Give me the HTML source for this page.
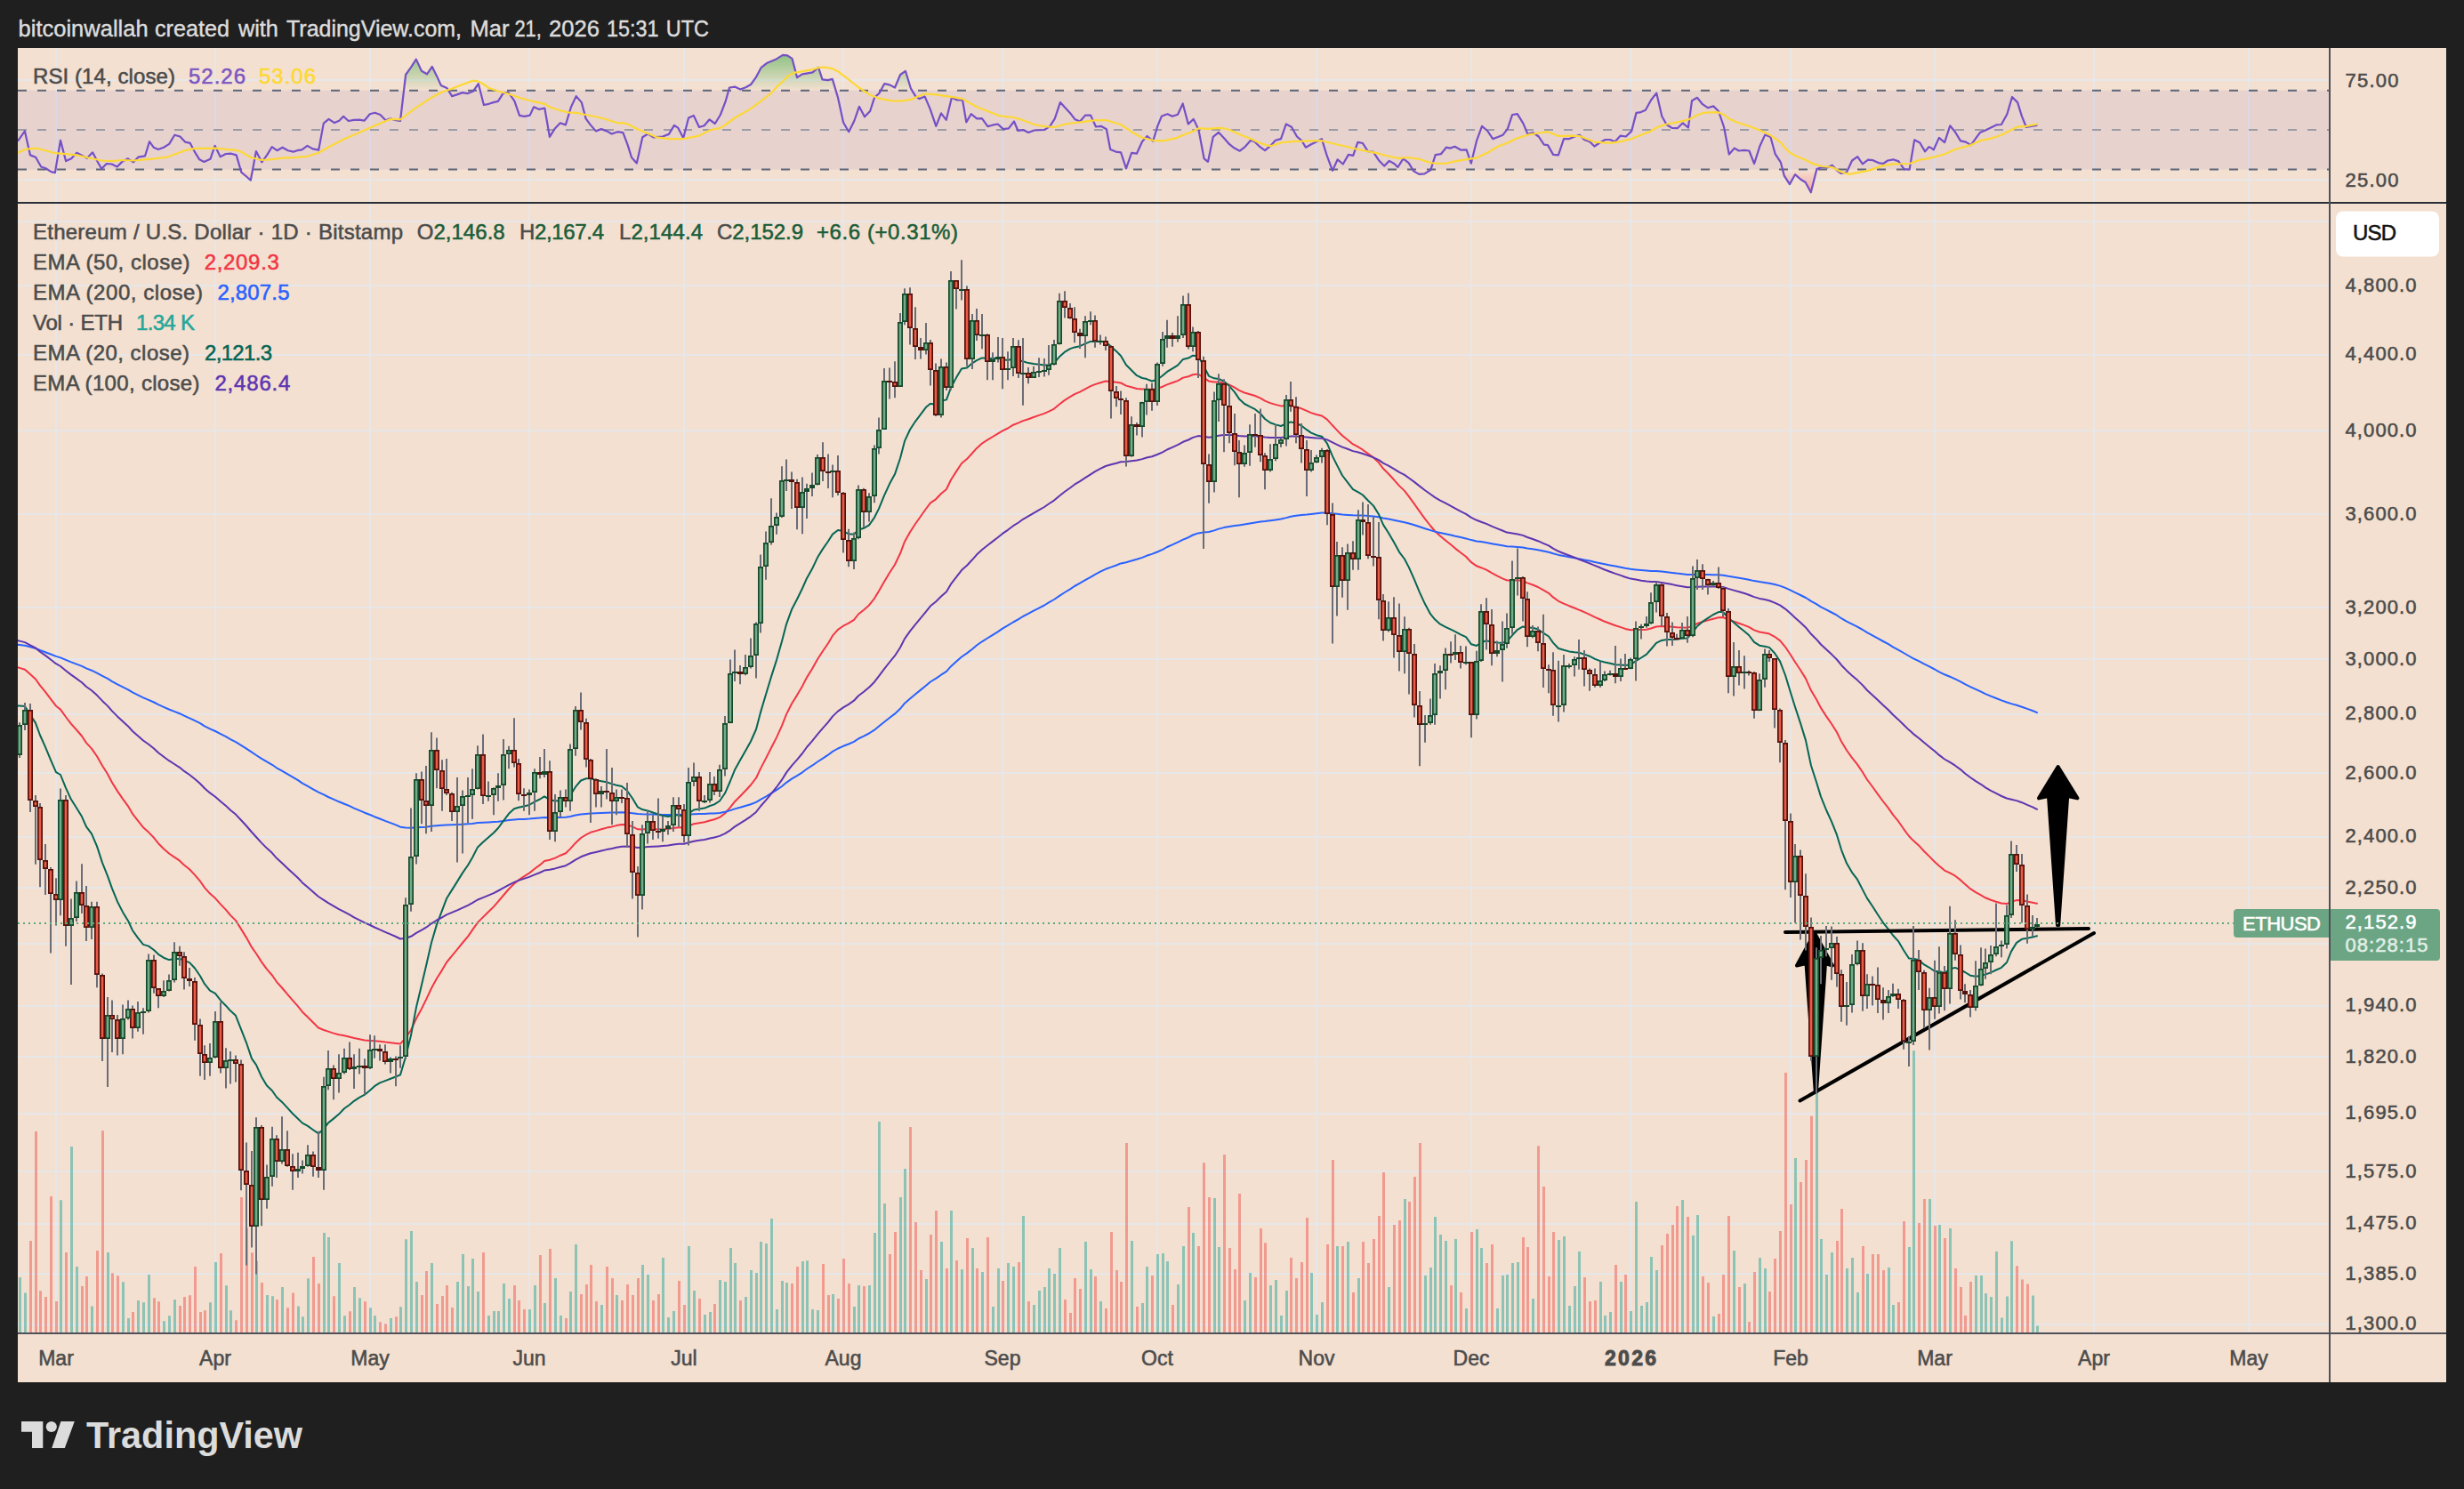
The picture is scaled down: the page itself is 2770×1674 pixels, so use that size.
<!DOCTYPE html><html><head><meta charset="utf-8"><title>ETHUSD chart</title><style>html,body{margin:0;padding:0;background:#1f1f1f;}svg{display:block}</style></head><body><svg width="2770" height="1674" viewBox="0 0 2770 1674" font-family="Liberation Sans, Arial, sans-serif">
<rect width="2770" height="1674" fill="#1f1f1f"/>
<rect x="20" y="54" width="2730" height="1500" fill="#f3e0d0"/>
<defs><clipPath id="cm"><rect x="20" y="229" width="2598" height="1269"/></clipPath><clipPath id="cr"><rect x="20" y="54" width="2598" height="173"/></clipPath><linearGradient id="ob" x1="0" y1="0" x2="0" y2="1"><stop offset="0" stop-color="#4caf50" stop-opacity="0.55"/><stop offset="1" stop-color="#4caf50" stop-opacity="0.05"/></linearGradient></defs>
<defs><clipPath id="cm2"><rect x="2619" y="228" width="140" height="1270"/></clipPath></defs>
<path d="M63 54V1499M242 54V1499M416 54V1499M595 54V1499M769 54V1499M948 54V1499M1127 54V1499M1301 54V1499M1480 54V1499M1654 54V1499M1833 54V1499M2013 54V1499M2175 54V1499M2354 54V1499M2528 54V1499M20 249H2619M20 321H2619M20 399H2619M20 484H2619M20 578H2619M20 683H2619M20 741H2619M20 803H2619M20 869H2619M20 941H2619M20 998H2619M20 1061H2619M20 1131H2619M20 1188H2619M20 1252H2619M20 1317H2619M20 1376H2619M20 1432H2619M20 1489H2619M20 90H2619M20 202H2619" stroke="#e7e7e9" stroke-width="2" fill="none"/>
<rect x="20" y="101.7" width="2598" height="88.89999999999999" fill="#7e57c2" fill-opacity="0.10"/>
<defs><linearGradient id="gob" gradientUnits="userSpaceOnUse" x1="0" y1="45" x2="0" y2="101.7"><stop offset="0" stop-color="#4caf50" stop-opacity="0.85"/><stop offset="1" stop-color="#4caf50" stop-opacity="0"/></linearGradient><linearGradient id="gos" gradientUnits="userSpaceOnUse" x1="0" y1="190.6" x2="0" y2="240"><stop offset="0" stop-color="#ff5252" stop-opacity="0"/><stop offset="1" stop-color="#ff5252" stop-opacity="0.85"/></linearGradient><clipPath id="cob"><rect x="20" y="54" width="2599" height="47.7"/></clipPath><clipPath id="cos"><rect x="20" y="190.6" width="2599" height="37.400000000000006"/></clipPath></defs>
<g clip-path="url(#cr)">
<polygon points="20.0,101.7 20.0,158.7 27.9,147.4 34.0,174.4 40.1,176.7 46.2,187.5 51.4,189.3 57.5,193.1 61.9,194.1 68.0,157.8 74.1,181.1 80.2,178.3 86.3,171.8 91.6,174.4 97.7,177.9 104.1,171.3 109.9,182.3 114.2,189.8 119.8,184.0 125.6,184.5 131.7,187.5 137.8,181.4 143.9,178.3 150.0,182.3 155.3,176.7 163.1,175.3 168.0,159.2 172.7,165.7 177.9,168.0 184.0,165.7 190.2,161.9 196.3,151.7 202.4,153.5 208.1,159.6 213.7,160.8 219.0,170.9 224.2,179.3 229.4,181.9 236.4,178.8 241.6,163.9 247.7,176.2 253.9,173.0 260.0,172.7 265.7,174.4 271.3,193.6 276.5,198.0 281.8,202.7 287.9,170.1 294.3,182.3 300.1,174.4 305.7,165.2 311.4,169.2 317.6,165.7 323.7,169.2 329.8,170.6 334.1,169.2 339.4,168.3 345.5,163.9 351.6,167.4 358.2,168.7 363.8,138.6 369.6,133.8 376.0,138.1 381.3,135.7 386.1,130.8 391.7,136.0 397.8,134.8 403.9,134.6 409.5,135.7 415.8,128.2 421.4,126.8 427.5,129.0 433.6,135.2 438.8,133.4 445.0,135.2 450.0,136.0 456.1,84.0 461.9,75.8 467.8,66.6 473.9,79.8 480.0,83.3 485.8,74.9 491.0,85.4 495.7,95.9 502.4,99.0 508.1,108.1 513.7,106.4 519.8,104.1 525.9,105.1 532.0,102.5 537.8,94.1 543.9,118.0 549.5,116.8 554.7,115.1 559.9,113.9 565.5,105.1 571.3,103.7 578.3,113.3 584.0,129.9 589.6,130.8 595.7,129.6 600.1,120.3 606.2,122.9 612.3,121.5 617.9,153.8 623.6,144.8 629.8,138.3 635.9,140.4 642.0,120.3 647.7,108.1 653.8,115.1 658.6,133.4 663.8,140.4 669.9,147.4 676.0,145.1 682.1,147.4 687.7,150.5 694.3,148.2 700.4,149.1 705.7,163.1 710.0,177.0 715.8,183.5 722.3,154.3 728.4,150.5 734.5,154.3 744.9,153.5 751.9,150.9 758.0,140.9 762.4,143.9 768.2,155.2 774.1,132.5 779.8,129.9 786.0,143.0 791.7,141.3 797.6,134.3 803.8,139.0 809.9,129.0 815.6,114.2 820.0,98.5 826.1,97.6 832.2,100.6 838.3,98.2 844.1,95.0 849.7,87.2 855.8,75.8 861.9,71.1 871.5,67.1 880.0,61.9 885.2,62.4 890.5,65.9 896.1,87.2 901.8,83.3 907.9,82.3 913.5,81.4 920.1,75.8 924.5,89.4 930.6,90.1 935.8,88.9 942.0,109.8 948.1,137.8 954.2,148.2 960.3,136.0 965.9,119.8 972.0,131.3 978.1,125.0 983.0,109.8 988.6,104.6 994.3,94.1 1000.1,95.4 1006.0,98.5 1012.1,84.0 1017.9,79.8 1024.0,99.7 1029.2,108.1 1033.6,111.1 1039.7,108.6 1045.8,122.9 1052.3,141.8 1058.0,127.3 1063.8,134.8 1069.9,109.8 1076.0,112.5 1082.1,112.5 1086.3,137.4 1091.7,128.2 1098.2,133.4 1103.9,133.1 1110.4,142.1 1115.6,140.7 1121.7,139.5 1127.8,145.1 1133.9,144.4 1140.0,136.5 1144.4,147.0 1150.2,146.1 1156.1,149.1 1162.7,146.5 1174.1,146.0 1180.2,142.1 1185.8,133.4 1191.9,115.1 1197.6,121.2 1202.9,126.9 1208.6,134.3 1214.2,136.5 1220.0,129.6 1226.1,129.6 1232.0,142.5 1237.8,141.8 1243.9,145.3 1248.2,168.0 1254.3,170.6 1260.1,171.3 1266.0,189.3 1272.1,171.8 1277.9,172.7 1284.0,159.2 1289.6,153.0 1296.2,158.7 1301.5,141.3 1305.8,130.8 1310.0,129.0 1312.6,128.2 1317.9,130.8 1324.0,128.7 1329.7,116.5 1335.8,139.5 1341.8,133.9 1347.5,146.0 1353.6,178.3 1358.0,181.9 1363.8,153.8 1369.9,148.8 1376.0,155.2 1382.1,162.2 1387.7,166.6 1393.8,169.7 1399.9,164.8 1406.0,157.8 1410.3,159.2 1416.5,165.2 1422.0,169.2 1428.3,163.9 1433.9,157.8 1440.0,156.1 1445.8,139.5 1451.9,142.7 1458.0,153.5 1463.6,158.4 1467.9,165.7 1474.0,162.2 1480.2,159.2 1485.9,156.1 1491.5,174.4 1498.0,191.9 1503.7,179.3 1509.8,184.5 1515.9,173.9 1521.2,174.9 1526.4,159.9 1532.0,161.0 1537.7,170.1 1543.9,170.9 1550.0,180.2 1556.1,186.6 1561.8,180.9 1567.4,184.0 1571.4,188.0 1577.5,178.3 1583.6,183.1 1589.2,192.4 1595.3,195.9 1601.4,195.4 1608.4,191.0 1613.7,174.1 1619.8,173.2 1625.9,165.7 1630.2,166.6 1635.5,164.8 1642.5,168.7 1648.6,168.3 1653.8,183.7 1659.9,158.7 1666.0,141.8 1672.1,147.0 1678.2,156.1 1684.0,154.0 1689.6,151.7 1694.8,144.8 1700.1,129.0 1705.8,128.2 1712.3,138.6 1717.5,150.9 1723.6,149.1 1729.7,153.5 1735.8,162.7 1740.0,163.1 1746.1,173.9 1751.9,174.4 1758.0,156.1 1764.4,156.1 1769.7,153.8 1775.8,151.7 1781.0,157.0 1787.1,159.2 1792.4,164.5 1798.5,160.5 1804.6,157.0 1809.8,157.0 1815.6,159.2 1821.7,152.6 1827.8,153.5 1834.2,147.4 1839.5,126.9 1844.7,126.1 1849.9,123.8 1856.1,112.5 1862.2,104.6 1868.3,130.8 1873.5,140.0 1879.6,143.9 1885.7,144.2 1891.8,138.3 1897.9,143.5 1902.0,113.3 1907.9,109.8 1914.0,117.2 1919.8,121.2 1926.2,119.4 1932.0,125.0 1938.1,143.0 1943.8,173.5 1949.9,166.6 1954.7,169.5 1960.8,168.8 1966.4,169.5 1972.1,184.0 1978.2,164.8 1984.3,151.4 1990.4,154.0 1995.7,173.2 2001.8,182.3 2005.8,197.6 2011.9,207.1 2018.0,196.2 2024.5,201.8 2029.7,205.0 2035.8,216.3 2042.4,190.1 2048.0,187.9 2054.1,188.4 2059.7,185.8 2065.5,191.9 2069.8,195.0 2076.0,193.6 2082.1,180.5 2088.2,176.2 2093.9,184.4 2100.0,179.7 2105.6,180.2 2111.7,183.1 2117.0,184.0 2122.2,180.5 2128.3,179.3 2134.4,181.4 2140.5,190.1 2146.6,190.6 2152.2,157.3 2158.3,160.5 2164.1,170.4 2168.4,165.2 2170.0,165.7 2173.8,168.3 2179.9,154.9 2186.1,160.1 2192.2,141.3 2197.9,148.2 2204.0,158.4 2209.8,159.6 2215.7,163.1 2225.8,149.1 2232.0,146.5 2238.1,143.4 2244.2,140.4 2249.9,140.0 2256.4,128.2 2262.0,109.0 2268.1,115.1 2273.0,130.8 2277.9,143.0 2290.4,140.7 2290.4,101.7" fill="url(#gob)" clip-path="url(#cob)"/>
<polygon points="20.0,190.6 20.0,158.7 27.9,147.4 34.0,174.4 40.1,176.7 46.2,187.5 51.4,189.3 57.5,193.1 61.9,194.1 68.0,157.8 74.1,181.1 80.2,178.3 86.3,171.8 91.6,174.4 97.7,177.9 104.1,171.3 109.9,182.3 114.2,189.8 119.8,184.0 125.6,184.5 131.7,187.5 137.8,181.4 143.9,178.3 150.0,182.3 155.3,176.7 163.1,175.3 168.0,159.2 172.7,165.7 177.9,168.0 184.0,165.7 190.2,161.9 196.3,151.7 202.4,153.5 208.1,159.6 213.7,160.8 219.0,170.9 224.2,179.3 229.4,181.9 236.4,178.8 241.6,163.9 247.7,176.2 253.9,173.0 260.0,172.7 265.7,174.4 271.3,193.6 276.5,198.0 281.8,202.7 287.9,170.1 294.3,182.3 300.1,174.4 305.7,165.2 311.4,169.2 317.6,165.7 323.7,169.2 329.8,170.6 334.1,169.2 339.4,168.3 345.5,163.9 351.6,167.4 358.2,168.7 363.8,138.6 369.6,133.8 376.0,138.1 381.3,135.7 386.1,130.8 391.7,136.0 397.8,134.8 403.9,134.6 409.5,135.7 415.8,128.2 421.4,126.8 427.5,129.0 433.6,135.2 438.8,133.4 445.0,135.2 450.0,136.0 456.1,84.0 461.9,75.8 467.8,66.6 473.9,79.8 480.0,83.3 485.8,74.9 491.0,85.4 495.7,95.9 502.4,99.0 508.1,108.1 513.7,106.4 519.8,104.1 525.9,105.1 532.0,102.5 537.8,94.1 543.9,118.0 549.5,116.8 554.7,115.1 559.9,113.9 565.5,105.1 571.3,103.7 578.3,113.3 584.0,129.9 589.6,130.8 595.7,129.6 600.1,120.3 606.2,122.9 612.3,121.5 617.9,153.8 623.6,144.8 629.8,138.3 635.9,140.4 642.0,120.3 647.7,108.1 653.8,115.1 658.6,133.4 663.8,140.4 669.9,147.4 676.0,145.1 682.1,147.4 687.7,150.5 694.3,148.2 700.4,149.1 705.7,163.1 710.0,177.0 715.8,183.5 722.3,154.3 728.4,150.5 734.5,154.3 744.9,153.5 751.9,150.9 758.0,140.9 762.4,143.9 768.2,155.2 774.1,132.5 779.8,129.9 786.0,143.0 791.7,141.3 797.6,134.3 803.8,139.0 809.9,129.0 815.6,114.2 820.0,98.5 826.1,97.6 832.2,100.6 838.3,98.2 844.1,95.0 849.7,87.2 855.8,75.8 861.9,71.1 871.5,67.1 880.0,61.9 885.2,62.4 890.5,65.9 896.1,87.2 901.8,83.3 907.9,82.3 913.5,81.4 920.1,75.8 924.5,89.4 930.6,90.1 935.8,88.9 942.0,109.8 948.1,137.8 954.2,148.2 960.3,136.0 965.9,119.8 972.0,131.3 978.1,125.0 983.0,109.8 988.6,104.6 994.3,94.1 1000.1,95.4 1006.0,98.5 1012.1,84.0 1017.9,79.8 1024.0,99.7 1029.2,108.1 1033.6,111.1 1039.7,108.6 1045.8,122.9 1052.3,141.8 1058.0,127.3 1063.8,134.8 1069.9,109.8 1076.0,112.5 1082.1,112.5 1086.3,137.4 1091.7,128.2 1098.2,133.4 1103.9,133.1 1110.4,142.1 1115.6,140.7 1121.7,139.5 1127.8,145.1 1133.9,144.4 1140.0,136.5 1144.4,147.0 1150.2,146.1 1156.1,149.1 1162.7,146.5 1174.1,146.0 1180.2,142.1 1185.8,133.4 1191.9,115.1 1197.6,121.2 1202.9,126.9 1208.6,134.3 1214.2,136.5 1220.0,129.6 1226.1,129.6 1232.0,142.5 1237.8,141.8 1243.9,145.3 1248.2,168.0 1254.3,170.6 1260.1,171.3 1266.0,189.3 1272.1,171.8 1277.9,172.7 1284.0,159.2 1289.6,153.0 1296.2,158.7 1301.5,141.3 1305.8,130.8 1310.0,129.0 1312.6,128.2 1317.9,130.8 1324.0,128.7 1329.7,116.5 1335.8,139.5 1341.8,133.9 1347.5,146.0 1353.6,178.3 1358.0,181.9 1363.8,153.8 1369.9,148.8 1376.0,155.2 1382.1,162.2 1387.7,166.6 1393.8,169.7 1399.9,164.8 1406.0,157.8 1410.3,159.2 1416.5,165.2 1422.0,169.2 1428.3,163.9 1433.9,157.8 1440.0,156.1 1445.8,139.5 1451.9,142.7 1458.0,153.5 1463.6,158.4 1467.9,165.7 1474.0,162.2 1480.2,159.2 1485.9,156.1 1491.5,174.4 1498.0,191.9 1503.7,179.3 1509.8,184.5 1515.9,173.9 1521.2,174.9 1526.4,159.9 1532.0,161.0 1537.7,170.1 1543.9,170.9 1550.0,180.2 1556.1,186.6 1561.8,180.9 1567.4,184.0 1571.4,188.0 1577.5,178.3 1583.6,183.1 1589.2,192.4 1595.3,195.9 1601.4,195.4 1608.4,191.0 1613.7,174.1 1619.8,173.2 1625.9,165.7 1630.2,166.6 1635.5,164.8 1642.5,168.7 1648.6,168.3 1653.8,183.7 1659.9,158.7 1666.0,141.8 1672.1,147.0 1678.2,156.1 1684.0,154.0 1689.6,151.7 1694.8,144.8 1700.1,129.0 1705.8,128.2 1712.3,138.6 1717.5,150.9 1723.6,149.1 1729.7,153.5 1735.8,162.7 1740.0,163.1 1746.1,173.9 1751.9,174.4 1758.0,156.1 1764.4,156.1 1769.7,153.8 1775.8,151.7 1781.0,157.0 1787.1,159.2 1792.4,164.5 1798.5,160.5 1804.6,157.0 1809.8,157.0 1815.6,159.2 1821.7,152.6 1827.8,153.5 1834.2,147.4 1839.5,126.9 1844.7,126.1 1849.9,123.8 1856.1,112.5 1862.2,104.6 1868.3,130.8 1873.5,140.0 1879.6,143.9 1885.7,144.2 1891.8,138.3 1897.9,143.5 1902.0,113.3 1907.9,109.8 1914.0,117.2 1919.8,121.2 1926.2,119.4 1932.0,125.0 1938.1,143.0 1943.8,173.5 1949.9,166.6 1954.7,169.5 1960.8,168.8 1966.4,169.5 1972.1,184.0 1978.2,164.8 1984.3,151.4 1990.4,154.0 1995.7,173.2 2001.8,182.3 2005.8,197.6 2011.9,207.1 2018.0,196.2 2024.5,201.8 2029.7,205.0 2035.8,216.3 2042.4,190.1 2048.0,187.9 2054.1,188.4 2059.7,185.8 2065.5,191.9 2069.8,195.0 2076.0,193.6 2082.1,180.5 2088.2,176.2 2093.9,184.4 2100.0,179.7 2105.6,180.2 2111.7,183.1 2117.0,184.0 2122.2,180.5 2128.3,179.3 2134.4,181.4 2140.5,190.1 2146.6,190.6 2152.2,157.3 2158.3,160.5 2164.1,170.4 2168.4,165.2 2170.0,165.7 2173.8,168.3 2179.9,154.9 2186.1,160.1 2192.2,141.3 2197.9,148.2 2204.0,158.4 2209.8,159.6 2215.7,163.1 2225.8,149.1 2232.0,146.5 2238.1,143.4 2244.2,140.4 2249.9,140.0 2256.4,128.2 2262.0,109.0 2268.1,115.1 2273.0,130.8 2277.9,143.0 2290.4,140.7 2290.4,190.6" fill="url(#gos)" clip-path="url(#cos)"/>
<path d="M20 101.7H2619M20 190.6H2619" stroke="#5d6578" stroke-width="2" stroke-dasharray="10 12" fill="none"/>
<path d="M20 146.0H2619" stroke="#9c9ca6" stroke-width="2" stroke-dasharray="10 12" fill="none"/>
<polyline points="20.0,158.7 27.9,147.4 34.0,174.4 40.1,176.7 46.2,187.5 51.4,189.3 57.5,193.1 61.9,194.1 68.0,157.8 74.1,181.1 80.2,178.3 86.3,171.8 91.6,174.4 97.7,177.9 104.1,171.3 109.9,182.3 114.2,189.8 119.8,184.0 125.6,184.5 131.7,187.5 137.8,181.4 143.9,178.3 150.0,182.3 155.3,176.7 163.1,175.3 168.0,159.2 172.7,165.7 177.9,168.0 184.0,165.7 190.2,161.9 196.3,151.7 202.4,153.5 208.1,159.6 213.7,160.8 219.0,170.9 224.2,179.3 229.4,181.9 236.4,178.8 241.6,163.9 247.7,176.2 253.9,173.0 260.0,172.7 265.7,174.4 271.3,193.6 276.5,198.0 281.8,202.7 287.9,170.1 294.3,182.3 300.1,174.4 305.7,165.2 311.4,169.2 317.6,165.7 323.7,169.2 329.8,170.6 334.1,169.2 339.4,168.3 345.5,163.9 351.6,167.4 358.2,168.7 363.8,138.6 369.6,133.8 376.0,138.1 381.3,135.7 386.1,130.8 391.7,136.0 397.8,134.8 403.9,134.6 409.5,135.7 415.8,128.2 421.4,126.8 427.5,129.0 433.6,135.2 438.8,133.4 445.0,135.2 450.0,136.0 456.1,84.0 461.9,75.8 467.8,66.6 473.9,79.8 480.0,83.3 485.8,74.9 491.0,85.4 495.7,95.9 502.4,99.0 508.1,108.1 513.7,106.4 519.8,104.1 525.9,105.1 532.0,102.5 537.8,94.1 543.9,118.0 549.5,116.8 554.7,115.1 559.9,113.9 565.5,105.1 571.3,103.7 578.3,113.3 584.0,129.9 589.6,130.8 595.7,129.6 600.1,120.3 606.2,122.9 612.3,121.5 617.9,153.8 623.6,144.8 629.8,138.3 635.9,140.4 642.0,120.3 647.7,108.1 653.8,115.1 658.6,133.4 663.8,140.4 669.9,147.4 676.0,145.1 682.1,147.4 687.7,150.5 694.3,148.2 700.4,149.1 705.7,163.1 710.0,177.0 715.8,183.5 722.3,154.3 728.4,150.5 734.5,154.3 744.9,153.5 751.9,150.9 758.0,140.9 762.4,143.9 768.2,155.2 774.1,132.5 779.8,129.9 786.0,143.0 791.7,141.3 797.6,134.3 803.8,139.0 809.9,129.0 815.6,114.2 820.0,98.5 826.1,97.6 832.2,100.6 838.3,98.2 844.1,95.0 849.7,87.2 855.8,75.8 861.9,71.1 871.5,67.1 880.0,61.9 885.2,62.4 890.5,65.9 896.1,87.2 901.8,83.3 907.9,82.3 913.5,81.4 920.1,75.8 924.5,89.4 930.6,90.1 935.8,88.9 942.0,109.8 948.1,137.8 954.2,148.2 960.3,136.0 965.9,119.8 972.0,131.3 978.1,125.0 983.0,109.8 988.6,104.6 994.3,94.1 1000.1,95.4 1006.0,98.5 1012.1,84.0 1017.9,79.8 1024.0,99.7 1029.2,108.1 1033.6,111.1 1039.7,108.6 1045.8,122.9 1052.3,141.8 1058.0,127.3 1063.8,134.8 1069.9,109.8 1076.0,112.5 1082.1,112.5 1086.3,137.4 1091.7,128.2 1098.2,133.4 1103.9,133.1 1110.4,142.1 1115.6,140.7 1121.7,139.5 1127.8,145.1 1133.9,144.4 1140.0,136.5 1144.4,147.0 1150.2,146.1 1156.1,149.1 1162.7,146.5 1174.1,146.0 1180.2,142.1 1185.8,133.4 1191.9,115.1 1197.6,121.2 1202.9,126.9 1208.6,134.3 1214.2,136.5 1220.0,129.6 1226.1,129.6 1232.0,142.5 1237.8,141.8 1243.9,145.3 1248.2,168.0 1254.3,170.6 1260.1,171.3 1266.0,189.3 1272.1,171.8 1277.9,172.7 1284.0,159.2 1289.6,153.0 1296.2,158.7 1301.5,141.3 1305.8,130.8 1310.0,129.0 1312.6,128.2 1317.9,130.8 1324.0,128.7 1329.7,116.5 1335.8,139.5 1341.8,133.9 1347.5,146.0 1353.6,178.3 1358.0,181.9 1363.8,153.8 1369.9,148.8 1376.0,155.2 1382.1,162.2 1387.7,166.6 1393.8,169.7 1399.9,164.8 1406.0,157.8 1410.3,159.2 1416.5,165.2 1422.0,169.2 1428.3,163.9 1433.9,157.8 1440.0,156.1 1445.8,139.5 1451.9,142.7 1458.0,153.5 1463.6,158.4 1467.9,165.7 1474.0,162.2 1480.2,159.2 1485.9,156.1 1491.5,174.4 1498.0,191.9 1503.7,179.3 1509.8,184.5 1515.9,173.9 1521.2,174.9 1526.4,159.9 1532.0,161.0 1537.7,170.1 1543.9,170.9 1550.0,180.2 1556.1,186.6 1561.8,180.9 1567.4,184.0 1571.4,188.0 1577.5,178.3 1583.6,183.1 1589.2,192.4 1595.3,195.9 1601.4,195.4 1608.4,191.0 1613.7,174.1 1619.8,173.2 1625.9,165.7 1630.2,166.6 1635.5,164.8 1642.5,168.7 1648.6,168.3 1653.8,183.7 1659.9,158.7 1666.0,141.8 1672.1,147.0 1678.2,156.1 1684.0,154.0 1689.6,151.7 1694.8,144.8 1700.1,129.0 1705.8,128.2 1712.3,138.6 1717.5,150.9 1723.6,149.1 1729.7,153.5 1735.8,162.7 1740.0,163.1 1746.1,173.9 1751.9,174.4 1758.0,156.1 1764.4,156.1 1769.7,153.8 1775.8,151.7 1781.0,157.0 1787.1,159.2 1792.4,164.5 1798.5,160.5 1804.6,157.0 1809.8,157.0 1815.6,159.2 1821.7,152.6 1827.8,153.5 1834.2,147.4 1839.5,126.9 1844.7,126.1 1849.9,123.8 1856.1,112.5 1862.2,104.6 1868.3,130.8 1873.5,140.0 1879.6,143.9 1885.7,144.2 1891.8,138.3 1897.9,143.5 1902.0,113.3 1907.9,109.8 1914.0,117.2 1919.8,121.2 1926.2,119.4 1932.0,125.0 1938.1,143.0 1943.8,173.5 1949.9,166.6 1954.7,169.5 1960.8,168.8 1966.4,169.5 1972.1,184.0 1978.2,164.8 1984.3,151.4 1990.4,154.0 1995.7,173.2 2001.8,182.3 2005.8,197.6 2011.9,207.1 2018.0,196.2 2024.5,201.8 2029.7,205.0 2035.8,216.3 2042.4,190.1 2048.0,187.9 2054.1,188.4 2059.7,185.8 2065.5,191.9 2069.8,195.0 2076.0,193.6 2082.1,180.5 2088.2,176.2 2093.9,184.4 2100.0,179.7 2105.6,180.2 2111.7,183.1 2117.0,184.0 2122.2,180.5 2128.3,179.3 2134.4,181.4 2140.5,190.1 2146.6,190.6 2152.2,157.3 2158.3,160.5 2164.1,170.4 2168.4,165.2 2170.0,165.7 2173.8,168.3 2179.9,154.9 2186.1,160.1 2192.2,141.3 2197.9,148.2 2204.0,158.4 2209.8,159.6 2215.7,163.1 2225.8,149.1 2232.0,146.5 2238.1,143.4 2244.2,140.4 2249.9,140.0 2256.4,128.2 2262.0,109.0 2268.1,115.1 2273.0,130.8 2277.9,143.0 2290.4,140.7" fill="none" stroke="#7450c6" stroke-width="2.2" stroke-linejoin="round"/>
<polyline points="20.0,171.8 28.7,167.8 40.1,166.6 51.4,169.2 61.9,172.2 74.1,173.2 86.3,174.4 97.7,177.0 114.2,180.5 125.6,181.1 137.8,180.0 150.0,180.5 163.1,179.3 177.9,177.9 187.5,176.7 196.3,173.5 208.1,169.2 219.0,166.9 229.4,166.9 241.6,166.6 253.9,167.8 265.7,168.8 271.3,170.6 281.8,177.0 294.3,180.0 305.7,179.1 317.6,177.6 329.8,177.2 345.5,175.8 358.2,171.8 369.6,165.2 386.5,156.4 403.9,149.1 421.4,141.3 438.8,133.9 450.0,134.3 467.5,121.2 484.9,109.8 496.2,103.7 508.1,99.7 519.8,95.0 532.0,90.6 537.8,91.5 544.2,95.0 549.5,99.0 559.9,102.5 571.3,105.5 584.0,109.8 600.1,114.2 612.3,116.8 617.9,120.3 629.8,124.2 638.5,126.4 647.7,126.9 658.6,129.0 676.0,132.5 694.3,138.3 700.4,138.1 705.7,139.5 715.8,144.8 728.4,150.0 738.0,154.3 751.9,156.1 768.2,156.1 786.0,152.6 797.6,146.5 809.9,143.9 816.5,139.5 826.1,132.5 844.1,122.1 855.8,113.3 867.1,104.6 874.1,96.8 880.0,91.5 886.1,85.4 892.2,81.9 902.7,80.2 913.5,78.1 920.1,76.2 926.2,75.5 935.8,77.2 942.0,80.2 953.3,88.9 965.5,98.5 977.7,106.4 988.6,110.7 1002.2,113.3 1012.1,113.7 1024.0,111.9 1031.8,108.6 1039.7,105.5 1052.3,106.4 1063.8,108.1 1076.0,109.8 1082.1,111.1 1098.2,120.3 1110.4,125.0 1121.7,129.6 1127.8,130.8 1140.0,132.0 1150.2,135.2 1162.7,140.0 1174.1,142.1 1185.8,143.0 1197.6,139.5 1214.2,137.4 1232.0,135.2 1243.9,135.2 1260.1,140.0 1272.1,148.2 1284.0,154.7 1296.2,157.8 1305.8,158.4 1310.0,157.8 1322.2,155.2 1329.7,152.1 1341.8,147.4 1347.5,144.2 1358.0,144.8 1369.9,143.9 1376.0,144.2 1382.1,146.0 1393.8,151.2 1406.0,156.1 1416.5,161.0 1428.3,164.3 1440.0,160.5 1451.9,159.2 1467.9,158.7 1485.9,158.2 1498.0,161.3 1515.9,165.2 1526.4,168.0 1537.7,170.1 1550.0,172.7 1561.8,175.8 1571.4,177.9 1583.6,177.0 1595.3,178.8 1608.4,183.1 1619.8,184.0 1625.9,183.7 1635.5,181.4 1648.6,179.1 1659.9,177.6 1672.1,171.8 1684.0,164.8 1694.8,160.5 1705.8,155.2 1717.5,151.7 1729.7,149.5 1740.0,148.2 1752.2,153.0 1764.4,152.6 1775.8,153.0 1792.4,159.6 1809.8,160.8 1821.7,159.2 1834.2,156.1 1844.7,151.7 1856.1,147.4 1862.2,143.5 1873.5,139.5 1885.7,137.4 1897.9,134.6 1907.9,129.6 1914.5,126.9 1926.2,126.1 1932.0,126.4 1938.1,129.0 1943.8,133.4 1954.7,138.3 1966.4,141.8 1978.2,146.5 1990.4,152.1 2001.8,160.1 2007.0,166.6 2012.3,171.8 2018.0,174.9 2029.7,179.7 2035.8,183.1 2048.0,187.0 2059.7,188.0 2069.8,193.3 2078.6,195.9 2088.2,194.1 2100.0,191.9 2117.0,186.1 2128.3,184.4 2146.6,184.0 2158.3,179.7 2170.0,177.6 2185.7,173.5 2197.9,168.0 2215.7,163.1 2225.8,158.2 2238.1,155.7 2249.9,151.7 2262.0,145.6 2268.1,142.7 2277.9,141.8 2290.4,139.5" fill="none" stroke="#fdd835" stroke-width="2.2" stroke-linejoin="round"/>
</g>
<g clip-path="url(#cm)">
<polyline points="16,749.1 22,750.9 28,752.7 34,758.1 40,763.5 45,770.6 51,777.9 57,785.8 63,793.7 68,797.6 74,806.0 80,813.8 86,820.5 92,827.5 97,835.1 103,841.6 109,850.3 115,860.8 121,870.3 126,879.7 132,889.4 138,898.1 144,906.3 149,914.9 155,922.7 161,930.2 167,935.6 173,941.8 178,948.2 184,954.2 190,959.5 196,963.6 202,967.7 207,972.5 213,977.3 219,983.6 225,990.7 230,997.9 236,1004.6 242,1009.8 248,1016.6 254,1022.9 259,1028.9 265,1034.9 271,1044.4 277,1054.1 283,1064.9 288,1072.0 294,1081.4 300,1089.7 306,1096.5 311,1103.8 317,1110.5 323,1117.6 329,1124.6 335,1131.3 340,1137.7 346,1143.5 352,1149.5 358,1155.5 364,1158.0 369,1159.6 375,1161.6 381,1163.3 387,1164.3 393,1165.8 398,1167.0 404,1168.2 410,1169.5 416,1169.9 421,1170.2 427,1170.7 433,1171.6 439,1172.3 445,1173.0 450,1173.6 456,1166.9 462,1158.0 468,1145.0 474,1134.0 479,1123.9 485,1111.0 491,1100.0 497,1090.6 502,1082.0 508,1074.7 514,1067.4 520,1060.0 526,1052.8 531,1045.7 537,1037.1 543,1031.1 549,1025.3 555,1019.4 560,1013.6 566,1006.5 572,999.5 578,993.5 583,989.4 589,985.4 595,981.6 601,976.8 607,972.4 612,968.0 618,966.7 624,964.6 630,961.7 636,959.3 641,954.4 647,947.7 653,942.0 659,938.4 664,935.8 670,934.1 676,932.3 682,930.6 688,929.4 693,928.1 699,926.9 705,927.3 711,929.4 717,932.3 722,932.5 728,932.1 734,932.2 740,932.3 745,932.3 751,932.1 757,931.0 763,930.2 769,930.6 774,928.5 780,926.2 786,925.2 792,924.2 798,922.5 803,921.2 809,918.9 815,914.5 821,907.7 826,901.2 832,895.2 838,889.0 844,882.5 850,874.7 855,864.1 861,852.6 867,840.8 873,829.1 879,815.8 884,803.1 890,791.3 896,781.6 902,771.4 907,761.6 913,752.0 919,741.3 925,732.0 931,723.2 936,714.7 942,707.9 948,703.7 954,700.7 960,696.8 965,690.5 971,685.7 977,680.4 983,672.8 988,664.5 994,653.9 1000,644.0 1006,634.8 1012,622.3 1017,608.9 1023,598.2 1029,589.0 1035,580.5 1041,572.0 1046,565.4 1052,561.3 1058,555.0 1064,550.0 1069,539.5 1075,530.1 1081,521.0 1087,516.1 1093,509.5 1098,503.9 1104,498.5 1110,494.7 1116,491.0 1122,487.3 1127,484.4 1133,481.5 1139,477.7 1145,475.4 1150,473.1 1156,471.2 1162,469.0 1168,466.9 1174,464.9 1179,462.6 1185,459.6 1191,454.5 1197,449.9 1203,446.2 1208,443.2 1214,440.6 1220,437.3 1226,434.2 1231,432.1 1237,430.2 1243,428.5 1249,429.0 1255,429.7 1260,430.5 1266,433.6 1272,435.2 1278,437.0 1284,437.5 1289,437.5 1295,438.1 1301,436.9 1307,434.7 1312,432.4 1318,430.3 1324,428.1 1330,424.6 1336,423.2 1341,421.2 1347,420.6 1353,424.3 1359,428.6 1365,429.5 1370,429.6 1376,430.6 1382,432.7 1388,435.6 1393,438.8 1399,441.5 1405,443.3 1411,445.0 1417,447.6 1422,450.6 1428,453.1 1434,454.9 1440,456.4 1446,456.1 1451,456.2 1457,457.5 1463,459.3 1469,461.9 1474,464.1 1480,466.0 1486,467.5 1492,471.6 1498,478.3 1503,483.6 1509,489.7 1515,494.5 1521,499.4 1527,502.5 1532,505.7 1538,510.1 1544,514.4 1550,520.1 1555,526.8 1561,532.8 1567,539.3 1573,546.1 1579,551.9 1584,558.4 1590,566.6 1596,575.1 1602,583.3 1608,591.0 1613,597.0 1619,602.6 1625,607.5 1631,612.2 1636,616.6 1642,621.3 1648,625.8 1654,632.2 1660,636.3 1665,638.2 1671,640.7 1677,644.2 1683,647.4 1689,650.3 1694,652.4 1700,652.4 1706,652.2 1712,653.1 1717,655.4 1723,657.5 1729,660.0 1735,663.4 1741,666.8 1746,671.4 1752,675.8 1758,678.6 1764,681.2 1770,683.5 1775,685.6 1781,688.1 1787,690.8 1793,693.8 1799,696.5 1804,698.8 1810,701.0 1816,703.3 1822,705.1 1827,706.9 1833,708.2 1839,708.1 1845,708.0 1851,707.7 1856,706.5 1862,704.5 1868,704.1 1874,704.3 1880,704.8 1885,705.3 1891,705.4 1897,705.8 1903,703.6 1908,701.0 1914,699.0 1920,697.4 1926,695.7 1932,694.3 1937,694.0 1943,696.6 1949,698.6 1955,700.8 1961,702.9 1966,704.9 1972,708.4 1978,710.5 1984,711.5 1989,712.6 1995,715.8 2001,720.1 2007,727.3 2013,736.3 2018,744.2 2024,753.2 2030,762.9 2036,776.3 2042,786.3 2047,795.9 2053,805.1 2059,813.8 2065,823.3 2070,833.6 2076,843.5 2082,851.8 2088,859.4 2094,868.3 2099,876.5 2105,884.5 2111,892.8 2117,901.0 2123,908.6 2128,915.9 2134,923.2 2140,931.8 2146,940.0 2151,945.1 2157,950.4 2163,957.0 2169,962.9 2175,969.0 2180,973.5 2186,978.6 2192,981.3 2198,984.7 2204,989.4 2209,994.1 2215,999.2 2221,1003.2 2227,1006.4 2232,1009.3 2238,1011.7 2244,1013.7 2250,1015.5 2256,1016.1 2261,1013.8 2267,1012.1 2273,1012.3 2279,1013.6 2285,1014.7 2290,1015.7" fill="none" stroke="#f23645" stroke-width="2.0" stroke-linejoin="round" stroke-linecap="round"/>
<polyline points="16,724.4 22,725.1 28,725.8 34,727.3 40,729.0 45,731.0 51,733.2 57,735.5 63,737.9 68,739.4 74,741.9 80,744.4 86,746.6 92,748.9 97,751.4 103,753.7 109,756.6 115,759.9 121,762.9 126,766.1 132,769.3 138,772.3 144,775.3 149,778.4 155,781.3 161,784.3 167,786.8 173,789.5 178,792.2 184,794.9 190,797.5 196,799.9 202,802.2 207,804.7 213,807.3 219,810.1 225,813.2 230,816.3 236,819.3 242,822.0 248,825.1 254,828.1 259,831.1 265,834.1 271,837.8 277,841.6 283,845.6 288,849.0 294,852.8 300,856.4 306,859.8 311,863.3 317,866.7 323,870.2 329,873.7 335,877.1 340,880.6 346,883.9 352,887.3 358,890.7 364,893.4 369,896.0 375,898.7 381,901.3 387,903.7 393,906.2 398,908.7 404,911.2 410,913.7 416,916.0 421,918.2 427,920.5 433,922.9 439,925.1 445,927.4 450,929.7 456,930.5 462,930.8 468,930.3 474,930.0 479,929.7 485,928.8 491,928.2 497,927.7 502,927.4 508,927.2 514,927.0 520,926.7 526,926.3 531,925.9 537,925.1 543,924.8 549,924.5 555,924.1 560,923.7 566,922.9 572,922.1 578,921.4 583,921.1 589,920.9 595,920.6 601,920.0 607,919.5 612,919.0 618,919.2 624,919.1 630,918.9 636,918.7 641,917.9 647,916.6 653,915.5 659,914.9 664,914.5 670,914.3 676,914.0 682,913.8 688,913.6 693,913.5 699,913.3 705,913.5 711,914.2 717,915.1 722,915.3 728,915.4 734,915.5 740,915.7 745,915.9 751,916.0 757,915.9 763,915.8 769,916.1 774,915.7 780,915.3 786,915.1 792,915.0 798,914.6 803,914.4 809,913.9 815,912.8 821,911.1 826,909.4 832,907.8 838,906.0 844,904.2 850,901.9 855,898.9 861,895.5 867,891.9 873,888.2 879,884.0 884,879.8 890,875.7 896,872.1 902,868.3 907,864.5 913,860.7 919,856.5 925,852.6 931,848.7 936,844.9 942,841.5 948,838.8 954,836.5 960,833.9 965,830.5 971,827.6 977,824.5 983,820.7 988,816.6 994,811.8 1000,807.0 1006,802.4 1012,796.8 1017,790.7 1023,785.4 1029,780.4 1035,775.6 1041,770.8 1046,766.5 1052,762.9 1058,758.7 1064,754.8 1069,749.2 1075,743.8 1081,738.5 1087,734.4 1093,729.8 1098,725.5 1104,721.3 1110,717.5 1116,713.8 1122,710.1 1127,706.6 1133,703.2 1139,699.5 1145,696.2 1150,693.0 1156,689.9 1162,686.7 1168,683.6 1174,680.5 1179,677.4 1185,674.0 1191,669.9 1197,666.0 1203,662.4 1208,659.0 1214,655.7 1220,652.2 1226,648.8 1231,645.8 1237,642.7 1243,639.8 1249,637.6 1255,635.5 1260,633.4 1266,632.2 1272,630.5 1278,628.8 1284,626.9 1289,624.8 1295,622.9 1301,620.5 1307,617.8 1312,615.0 1318,612.4 1324,609.7 1330,606.6 1336,604.2 1341,601.5 1347,599.4 1353,598.5 1359,598.0 1365,596.4 1370,594.6 1376,593.1 1382,592.0 1388,591.1 1393,590.4 1399,589.5 1405,588.5 1411,587.4 1417,586.6 1422,586.1 1428,585.3 1434,584.4 1440,583.5 1446,582.1 1451,580.7 1457,579.8 1463,579.0 1469,578.5 1474,577.9 1480,577.2 1486,576.5 1492,576.5 1498,577.3 1503,577.7 1509,578.5 1515,578.9 1521,579.3 1527,579.4 1532,579.5 1538,579.9 1544,580.4 1550,581.3 1555,582.4 1561,583.5 1567,584.7 1573,586.0 1579,587.2 1584,588.5 1590,590.3 1596,592.3 1602,594.3 1608,596.1 1613,597.6 1619,599.0 1625,600.3 1631,601.5 1636,602.8 1642,604.1 1648,605.4 1654,607.1 1660,608.4 1665,609.1 1671,610.0 1677,611.2 1683,612.3 1689,613.3 1694,614.2 1700,614.6 1706,614.9 1712,615.5 1717,616.4 1723,617.3 1729,618.3 1735,619.5 1741,620.8 1746,622.3 1752,623.9 1758,625.0 1764,626.2 1770,627.2 1775,628.3 1781,629.4 1787,630.6 1793,631.9 1799,633.2 1804,634.3 1810,635.5 1816,636.6 1822,637.7 1827,638.8 1833,639.7 1839,640.4 1845,641.0 1851,641.5 1856,641.9 1862,642.0 1868,642.5 1874,643.2 1880,643.9 1885,644.6 1891,645.2 1897,645.9 1903,645.9 1908,645.9 1914,645.9 1920,646.1 1926,646.2 1932,646.3 1937,646.7 1943,647.8 1949,648.7 1955,649.7 1961,650.7 1966,651.7 1972,653.1 1978,654.1 1984,654.9 1989,655.7 1995,657.0 2001,658.6 2007,660.9 2013,663.6 2018,666.2 2024,669.0 2030,672.0 2036,675.9 2042,679.2 2047,682.3 2053,685.4 2059,688.5 2065,691.7 2070,695.2 2076,698.6 2082,701.7 2088,704.7 2094,708.0 2099,711.2 2105,714.4 2111,717.7 2117,721.0 2123,724.2 2128,727.4 2134,730.6 2140,734.0 2146,737.5 2151,740.3 2157,743.2 2163,746.4 2169,749.4 2175,752.5 2180,755.3 2186,758.3 2192,760.7 2198,763.4 2204,766.3 2209,769.2 2215,772.1 2221,774.9 2227,777.6 2232,780.1 2238,782.6 2244,785.0 2250,787.4 2256,789.5 2261,791.1 2267,792.7 2273,794.7 2279,796.9 2285,799.0 2290,801.1" fill="none" stroke="#2962ff" stroke-width="2.0" stroke-linejoin="round" stroke-linecap="round"/>
<path d="M33 1395.0h3V1498h-3zM39 1272.1h3V1498h-3zM44 1451.2h3V1498h-3zM50 1458.1h3V1498h-3zM56 1345.1h3V1498h-3zM62 1463.0h3V1498h-3zM73 1408.0h3V1498h-3zM91 1446.1h3V1498h-3zM96 1434.9h3V1498h-3zM108 1405.9h3V1498h-3zM114 1271.3h3V1498h-3zM125 1431.2h3V1498h-3zM131 1434.3h3V1498h-3zM148 1475.1h3V1498h-3zM172 1459.3h3V1498h-3zM177 1463.3h3V1498h-3zM201 1468.0h3V1498h-3zM206 1458.1h3V1498h-3zM212 1456.3h3V1498h-3zM218 1424.0h3V1498h-3zM224 1475.1h3V1498h-3zM229 1473.3h3V1498h-3zM247 1409.1h3V1498h-3zM264 1484.2h3V1498h-3zM270 1346.0h3V1498h-3zM276 1380.5h3V1498h-3zM282 1408.2h3V1498h-3zM293 1442.1h3V1498h-3zM310 1461.1h3V1498h-3zM322 1470.2h3V1498h-3zM328 1453.4h3V1498h-3zM351 1413.1h3V1498h-3zM357 1443.0h3V1498h-3zM374 1457.2h3V1498h-3zM392 1474.2h3V1498h-3zM409 1463.3h3V1498h-3zM426 1486.2h3V1498h-3zM432 1488.2h3V1498h-3zM444 1480.2h3V1498h-3zM473 1456.0h3V1498h-3zM478 1429.0h3V1498h-3zM490 1465.9h3V1498h-3zM496 1456.9h3V1498h-3zM501 1445.1h3V1498h-3zM507 1470.1h3V1498h-3zM542 1408.0h3V1498h-3zM577 1445.1h3V1498h-3zM582 1462.0h3V1498h-3zM588 1471.9h3V1498h-3zM606 1410.9h3V1498h-3zM617 1404.0h3V1498h-3zM635 1481.9h3V1498h-3zM652 1455.1h3V1498h-3zM658 1444.0h3V1498h-3zM663 1422.1h3V1498h-3zM669 1463.0h3V1498h-3zM681 1423.9h3V1498h-3zM687 1437.0h3V1498h-3zM698 1462.0h3V1498h-3zM704 1444.0h3V1498h-3zM710 1456.0h3V1498h-3zM716 1437.0h3V1498h-3zM733 1462.0h3V1498h-3zM739 1455.1h3V1498h-3zM762 1440.1h3V1498h-3zM768 1467.0h3V1498h-3zM785 1460.1h3V1498h-3zM802 1465.9h3V1498h-3zM831 1462.0h3V1498h-3zM889 1443.1h3V1498h-3zM895 1423.9h3V1498h-3zM924 1421.0h3V1498h-3zM930 1456.0h3V1498h-3zM941 1460.1h3V1498h-3zM947 1414.9h3V1498h-3zM953 1443.1h3V1498h-3zM970 1446.0h3V1498h-3zM999 1410.0h3V1498h-3zM1005 1385.0h3V1498h-3zM1022 1267.0h3V1498h-3zM1028 1374.0h3V1498h-3zM1034 1427.9h3V1498h-3zM1045 1388.1h3V1498h-3zM1051 1361.0h3V1498h-3zM1063 1425.9h3V1498h-3zM1074 1417.1h3V1498h-3zM1086 1392.1h3V1498h-3zM1097 1425.9h3V1498h-3zM1109 1391.0h3V1498h-3zM1126 1440.1h3V1498h-3zM1144 1419.1h3V1498h-3zM1155 1463.0h3V1498h-3zM1196 1461.1h3V1498h-3zM1202 1476.1h3V1498h-3zM1207 1437.0h3V1498h-3zM1213 1449.1h3V1498h-3zM1230 1435.0h3V1498h-3zM1242 1471.0h3V1498h-3zM1248 1385.0h3V1498h-3zM1254 1427.9h3V1498h-3zM1259 1441.1h3V1498h-3zM1265 1284.9h3V1498h-3zM1277 1469.0h3V1498h-3zM1294 1434.1h3V1498h-3zM1317 1467.0h3V1498h-3zM1335 1357.0h3V1498h-3zM1346 1401.0h3V1498h-3zM1352 1307.2h3V1498h-3zM1358 1346.1h3V1498h-3zM1375 1298.1h3V1498h-3zM1381 1403.1h3V1498h-3zM1387 1427.0h3V1498h-3zM1392 1342.1h3V1498h-3zM1410 1436.1h3V1498h-3zM1416 1381.0h3V1498h-3zM1421 1397.2h3V1498h-3zM1450 1414.0h3V1498h-3zM1456 1437.0h3V1498h-3zM1462 1419.1h3V1498h-3zM1468 1369.1h3V1498h-3zM1491 1399.0h3V1498h-3zM1497 1304.1h3V1498h-3zM1508 1401.0h3V1498h-3zM1520 1453.1h3V1498h-3zM1531 1396.1h3V1498h-3zM1537 1420.0h3V1498h-3zM1543 1393.0h3V1498h-3zM1549 1367.1h3V1498h-3zM1554 1318.1h3V1498h-3zM1566 1377.1h3V1498h-3zM1572 1372.0h3V1498h-3zM1583 1351.0h3V1498h-3zM1589 1323.1h3V1498h-3zM1595 1284.9h3V1498h-3zM1630 1445.1h3V1498h-3zM1641 1453.1h3V1498h-3zM1653 1385.0h3V1498h-3zM1670 1420.0h3V1498h-3zM1676 1399.0h3V1498h-3zM1711 1391.0h3V1498h-3zM1716 1402.0h3V1498h-3zM1728 1288.2h3V1498h-3zM1734 1334.0h3V1498h-3zM1740 1435.0h3V1498h-3zM1745 1385.0h3V1498h-3zM1780 1436.1h3V1498h-3zM1786 1463.0h3V1498h-3zM1792 1462.0h3V1498h-3zM1815 1422.1h3V1498h-3zM1826 1433.0h3V1498h-3zM1867 1400.1h3V1498h-3zM1873 1387.0h3V1498h-3zM1879 1377.1h3V1498h-3zM1884 1356.1h3V1498h-3zM1896 1368.0h3V1498h-3zM1913 1435.0h3V1498h-3zM1919 1442.0h3V1498h-3zM1931 1477.0h3V1498h-3zM1936 1433.0h3V1498h-3zM1942 1367.1h3V1498h-3zM1954 1447.1h3V1498h-3zM1965 1486.0h3V1498h-3zM1971 1429.9h3V1498h-3zM1988 1452.0h3V1498h-3zM1994 1415.1h3V1498h-3zM2000 1384.1h3V1498h-3zM2006 1206.0h3V1498h-3zM2012 1354.1h3V1498h-3zM2023 1329.1h3V1498h-3zM2029 1304.1h3V1498h-3zM2035 1254.7h3V1498h-3zM2064 1395.0h3V1498h-3zM2069 1359.0h3V1498h-3zM2093 1401.0h3V1498h-3zM2104 1410.0h3V1498h-3zM2110 1410.0h3V1498h-3zM2116 1427.9h3V1498h-3zM2133 1463.9h3V1498h-3zM2139 1373.1h3V1498h-3zM2156 1375.1h3V1498h-3zM2162 1348.1h3V1498h-3zM2174 1378.0h3V1498h-3zM2185 1392.1h3V1498h-3zM2197 1425.9h3V1498h-3zM2203 1447.1h3V1498h-3zM2208 1479.0h3V1498h-3zM2214 1441.1h3V1498h-3zM2266 1423.3h3V1498h-3zM2272 1438.6h3V1498h-3zM2278 1443.6h3V1498h-3z" fill="#ef5350" fill-opacity="0.5"/><path d="M21 1436.1h3V1498h-3zM27 1453.4h3V1498h-3zM67 1349.3h3V1498h-3zM79 1288.9h3V1498h-3zM85 1424.0h3V1498h-3zM102 1468.4h3V1498h-3zM120 1408.0h3V1498h-3zM137 1441.2h3V1498h-3zM143 1482.0h3V1498h-3zM154 1462.1h3V1498h-3zM160 1464.2h3V1498h-3zM166 1433.0h3V1498h-3zM183 1485.3h3V1498h-3zM189 1479.3h3V1498h-3zM195 1461.1h3V1498h-3zM235 1464.2h3V1498h-3zM241 1419.1h3V1498h-3zM253 1445.2h3V1498h-3zM258 1473.3h3V1498h-3zM287 1417.6h3V1498h-3zM299 1456.1h3V1498h-3zM305 1457.2h3V1498h-3zM316 1447.0h3V1498h-3zM334 1468.4h3V1498h-3zM339 1480.2h3V1498h-3zM345 1437.2h3V1498h-3zM363 1385.9h3V1498h-3zM368 1391.0h3V1498h-3zM380 1420.0h3V1498h-3zM386 1479.3h3V1498h-3zM397 1447.0h3V1498h-3zM403 1459.3h3V1498h-3zM415 1470.2h3V1498h-3zM420 1479.3h3V1498h-3zM438 1482.0h3V1498h-3zM449 1469.3h3V1498h-3zM455 1393.2h3V1498h-3zM461 1384.1h3V1498h-3zM467 1441.1h3V1498h-3zM484 1420.0h3V1498h-3zM513 1441.1h3V1498h-3zM519 1410.0h3V1498h-3zM525 1446.0h3V1498h-3zM530 1414.9h3V1498h-3zM536 1452.0h3V1498h-3zM548 1479.0h3V1498h-3zM554 1474.1h3V1498h-3zM559 1474.1h3V1498h-3zM565 1443.1h3V1498h-3zM571 1460.1h3V1498h-3zM594 1471.9h3V1498h-3zM600 1445.1h3V1498h-3zM611 1465.0h3V1498h-3zM623 1437.0h3V1498h-3zM629 1479.0h3V1498h-3zM640 1452.0h3V1498h-3zM646 1399.0h3V1498h-3zM675 1467.0h3V1498h-3zM692 1456.0h3V1498h-3zM721 1422.1h3V1498h-3zM727 1433.0h3V1498h-3zM744 1414.0h3V1498h-3zM750 1481.0h3V1498h-3zM756 1474.1h3V1498h-3zM773 1401.0h3V1498h-3zM779 1451.1h3V1498h-3zM791 1477.9h3V1498h-3zM797 1475.0h3V1498h-3zM808 1439.0h3V1498h-3zM814 1441.1h3V1498h-3zM820 1403.1h3V1498h-3zM825 1420.0h3V1498h-3zM837 1458.0h3V1498h-3zM843 1427.9h3V1498h-3zM849 1431.0h3V1498h-3zM854 1396.1h3V1498h-3zM860 1398.1h3V1498h-3zM866 1370.0h3V1498h-3zM872 1471.9h3V1498h-3zM878 1440.1h3V1498h-3zM883 1442.0h3V1498h-3zM901 1418.0h3V1498h-3zM906 1417.2h3V1498h-3zM912 1471.9h3V1498h-3zM918 1473.0h3V1498h-3zM935 1455.1h3V1498h-3zM959 1469.0h3V1498h-3zM964 1445.1h3V1498h-3zM976 1445.1h3V1498h-3zM982 1386.1h3V1498h-3zM987 1261.0h3V1498h-3zM993 1353.0h3V1498h-3zM1011 1346.1h3V1498h-3zM1016 1314.1h3V1498h-3zM1040 1438.1h3V1498h-3zM1057 1396.1h3V1498h-3zM1068 1361.0h3V1498h-3zM1080 1427.0h3V1498h-3zM1092 1403.1h3V1498h-3zM1103 1429.9h3V1498h-3zM1115 1469.0h3V1498h-3zM1121 1425.9h3V1498h-3zM1132 1420.0h3V1498h-3zM1138 1423.9h3V1498h-3zM1149 1366.9h3V1498h-3zM1161 1467.0h3V1498h-3zM1167 1451.1h3V1498h-3zM1173 1447.1h3V1498h-3zM1178 1425.9h3V1498h-3zM1184 1432.1h3V1498h-3zM1190 1403.1h3V1498h-3zM1219 1396.1h3V1498h-3zM1225 1427.0h3V1498h-3zM1236 1463.0h3V1498h-3zM1271 1395.0h3V1498h-3zM1283 1465.0h3V1498h-3zM1288 1423.9h3V1498h-3zM1300 1410.0h3V1498h-3zM1306 1409.1h3V1498h-3zM1311 1418.0h3V1498h-3zM1323 1444.0h3V1498h-3zM1329 1401.0h3V1498h-3zM1340 1386.1h3V1498h-3zM1364 1347.0h3V1498h-3zM1369 1402.0h3V1498h-3zM1398 1462.0h3V1498h-3zM1404 1431.0h3V1498h-3zM1427 1445.1h3V1498h-3zM1433 1439.0h3V1498h-3zM1439 1479.0h3V1498h-3zM1445 1451.1h3V1498h-3zM1473 1431.0h3V1498h-3zM1479 1477.9h3V1498h-3zM1485 1463.9h3V1498h-3zM1502 1401.0h3V1498h-3zM1514 1396.1h3V1498h-3zM1526 1437.0h3V1498h-3zM1560 1447.1h3V1498h-3zM1578 1348.1h3V1498h-3zM1601 1434.1h3V1498h-3zM1607 1425.0h3V1498h-3zM1612 1368.0h3V1498h-3zM1618 1388.1h3V1498h-3zM1624 1395.0h3V1498h-3zM1635 1393.0h3V1498h-3zM1647 1471.0h3V1498h-3zM1659 1382.1h3V1498h-3zM1664 1403.1h3V1498h-3zM1682 1471.0h3V1498h-3zM1688 1434.1h3V1498h-3zM1693 1433.0h3V1498h-3zM1699 1420.0h3V1498h-3zM1705 1419.1h3V1498h-3zM1722 1460.1h3V1498h-3zM1751 1394.1h3V1498h-3zM1757 1390.1h3V1498h-3zM1763 1468.1h3V1498h-3zM1769 1446.0h3V1498h-3zM1774 1407.1h3V1498h-3zM1798 1441.1h3V1498h-3zM1803 1479.0h3V1498h-3zM1809 1475.0h3V1498h-3zM1821 1441.1h3V1498h-3zM1832 1474.1h3V1498h-3zM1838 1351.0h3V1498h-3zM1844 1468.1h3V1498h-3zM1850 1463.9h3V1498h-3zM1855 1413.1h3V1498h-3zM1861 1427.9h3V1498h-3zM1890 1349.0h3V1498h-3zM1902 1389.0h3V1498h-3zM1907 1366.0h3V1498h-3zM1925 1480.1h3V1498h-3zM1948 1406.0h3V1498h-3zM1960 1443.1h3V1498h-3zM1977 1414.0h3V1498h-3zM1983 1425.9h3V1498h-3zM2017 1302.1h3V1498h-3zM2041 1223.9h3V1498h-3zM2046 1393.0h3V1498h-3zM2052 1433.0h3V1498h-3zM2058 1408.0h3V1498h-3zM2075 1425.9h3V1498h-3zM2081 1414.0h3V1498h-3zM2087 1453.1h3V1498h-3zM2098 1432.1h3V1498h-3zM2122 1425.0h3V1498h-3zM2127 1467.0h3V1498h-3zM2145 1402.0h3V1498h-3zM2150 1181.2h3V1498h-3zM2168 1348.1h3V1498h-3zM2179 1377.1h3V1498h-3zM2191 1381.0h3V1498h-3zM2220 1434.1h3V1498h-3zM2226 1434.1h3V1498h-3zM2231 1454.0h3V1498h-3zM2237 1458.0h3V1498h-3zM2243 1407.1h3V1498h-3zM2249 1481.5h3V1498h-3zM2255 1457.6h3V1498h-3zM2260 1395.2h3V1498h-3zM2284 1456.4h3V1498h-3zM2289 1490.4h3V1498h-3z" fill="#26a69a" fill-opacity="0.5"/>
<polyline points="16,793.2 22,793.6 28,794.0 34,803.6 40,812.9 45,826.5 51,839.8 57,854.3 63,868.2 68,871.0 74,885.9 80,898.8 86,908.2 92,918.1 97,929.3 103,937.4 109,951.4 115,969.9 121,984.8 126,998.9 132,1013.7 138,1025.4 144,1035.2 149,1046.0 155,1054.4 161,1061.9 167,1063.6 173,1068.0 178,1072.8 184,1076.7 190,1079.1 196,1078.2 202,1077.8 207,1079.9 213,1082.1 219,1088.5 225,1097.3 230,1106.2 236,1113.7 242,1116.9 248,1124.6 254,1130.7 259,1136.3 265,1141.8 271,1157.1 277,1172.3 283,1190.1 288,1197.1 294,1210.5 300,1220.6 306,1226.2 311,1233.5 317,1238.9 323,1245.4 329,1252.0 335,1257.7 340,1262.6 346,1265.9 352,1270.2 358,1274.4 364,1269.2 369,1262.4 375,1257.6 381,1252.6 387,1246.3 393,1242.0 398,1237.8 404,1233.9 410,1230.7 416,1225.8 421,1221.2 427,1217.4 433,1215.1 439,1212.7 445,1210.5 450,1208.4 456,1188.2 462,1164.1 468,1132.3 474,1107.3 479,1086.1 485,1059.8 491,1039.4 497,1023.7 502,1010.3 508,1000.6 514,991.1 520,981.4 526,972.7 531,964.2 537,952.4 543,946.8 549,941.6 555,936.2 560,931.0 566,922.8 572,914.8 578,909.3 583,907.7 589,906.4 595,905.0 601,901.3 607,898.5 612,895.4 618,899.1 624,900.4 630,900.0 636,900.0 641,894.3 647,884.7 653,877.5 659,875.3 664,875.3 670,877.0 676,878.2 682,879.3 688,881.4 693,882.8 699,884.1 705,889.1 711,897.5 717,907.4 722,910.1 728,911.4 734,913.5 740,915.5 745,917.1 751,918.1 757,916.8 763,916.2 769,918.4 774,914.6 780,910.5 786,909.6 792,908.6 798,906.0 803,904.4 809,900.5 815,891.8 821,878.0 826,865.6 832,854.7 838,844.2 844,833.5 850,820.0 855,800.9 861,780.8 867,760.9 873,742.1 879,720.9 884,701.8 890,685.3 896,673.8 902,661.5 907,650.2 913,639.6 919,626.8 925,617.1 931,608.5 936,600.6 942,596.0 948,597.1 954,600.3 960,600.7 965,595.7 971,593.8 977,590.3 983,581.8 988,571.9 994,557.1 1000,544.1 1006,533.1 1012,515.3 1017,495.9 1023,483.0 1029,473.8 1035,465.9 1041,457.8 1046,453.8 1052,455.0 1058,450.9 1064,449.4 1069,435.8 1075,424.6 1081,414.6 1087,413.5 1093,408.3 1098,405.2 1104,402.4 1110,402.8 1116,402.9 1122,402.7 1127,404.0 1133,405.0 1139,403.4 1145,405.0 1150,406.3 1156,408.1 1162,409.1 1168,409.8 1174,410.4 1179,410.3 1185,408.1 1191,401.1 1197,395.7 1203,392.1 1208,390.4 1214,389.2 1220,386.4 1226,383.9 1231,383.9 1237,383.8 1243,384.3 1249,389.5 1255,394.9 1260,400.0 1266,410.2 1272,416.3 1278,422.2 1284,425.0 1289,426.1 1295,428.5 1301,426.7 1307,422.3 1312,417.9 1318,414.3 1324,410.7 1330,403.9 1336,402.6 1341,399.7 1347,400.2 1353,411.1 1359,422.8 1365,425.3 1370,425.9 1376,428.7 1382,434.1 1388,440.9 1393,448.4 1399,454.0 1405,457.2 1411,460.2 1417,465.0 1422,471.0 1428,475.2 1434,477.4 1440,479.0 1446,476.2 1451,474.4 1457,475.8 1463,478.5 1469,483.2 1474,486.6 1480,489.2 1486,490.7 1492,498.7 1498,512.9 1503,522.9 1509,534.5 1515,542.4 1521,550.2 1527,553.4 1532,556.5 1538,562.8 1544,568.6 1550,578.3 1555,589.9 1561,599.3 1567,609.6 1573,620.6 1579,628.5 1584,638.1 1590,651.7 1596,666.1 1602,679.1 1608,690.2 1613,696.3 1619,701.7 1625,704.8 1631,707.7 1636,710.1 1642,713.3 1648,716.2 1654,724.3 1660,726.0 1665,722.2 1671,720.3 1677,721.7 1683,722.6 1689,722.8 1694,721.1 1700,714.3 1706,707.8 1712,704.4 1717,705.5 1723,705.8 1729,707.5 1735,711.7 1741,715.5 1746,722.6 1752,729.0 1758,730.8 1764,732.4 1770,733.3 1775,733.8 1781,735.6 1787,737.7 1793,740.9 1799,743.1 1804,744.5 1810,745.7 1816,747.2 1822,747.5 1827,747.9 1833,747.3 1839,743.2 1845,739.5 1851,735.7 1856,730.0 1862,722.8 1868,719.9 1874,719.1 1880,718.9 1885,718.8 1891,717.7 1897,717.4 1903,710.8 1908,704.0 1914,698.9 1920,694.9 1926,691.0 1932,688.1 1937,688.0 1943,694.8 1949,699.8 1955,705.0 1961,709.7 1966,714.0 1972,721.8 1978,725.7 1984,726.7 1989,727.9 1995,734.3 2001,743.4 2007,759.0 2013,778.8 2018,794.7 2024,812.9 2030,832.4 2036,860.8 2042,879.3 2047,895.6 2053,910.5 2059,923.7 2065,938.7 2070,955.3 2076,970.6 2082,980.8 2088,988.7 2094,1000.4 2099,1009.9 2105,1018.8 2111,1028.3 2117,1037.3 2123,1044.9 2128,1051.5 2134,1058.1 2140,1068.3 2146,1077.5 2151,1077.7 2157,1079.1 2163,1084.4 2169,1087.8 2175,1092.0 2180,1092.0 2186,1093.9 2192,1089.5 2198,1087.9 2204,1090.4 2209,1093.0 2215,1096.7 2221,1097.8 2227,1096.9 2232,1095.5 2238,1093.4 2244,1090.5 2250,1087.8 2256,1082.0 2261,1069.6 2267,1059.9 2273,1055.8 2279,1054.8 2285,1053.6 2290,1052.2" fill="none" stroke="#056656" stroke-width="2.0" stroke-linejoin="round" stroke-linecap="round"/>
<polyline points="16,719.2 22,720.6 28,722.1 34,725.3 40,728.5 45,732.7 51,736.9 57,741.5 63,746.2 68,749.0 74,753.9 80,758.6 86,762.9 92,767.3 97,772.0 103,776.3 109,781.6 115,787.9 121,793.6 126,799.4 132,805.4 138,811.0 144,816.4 149,822.0 155,827.3 161,832.5 167,836.8 173,841.5 178,846.2 184,850.8 190,855.2 196,859.0 202,862.8 207,866.9 213,871.0 219,875.8 225,881.0 230,886.3 236,891.4 242,895.8 248,900.9 254,905.9 259,910.7 265,915.6 271,922.0 277,928.5 283,935.5 288,941.0 294,947.6 300,953.6 306,959.1 311,964.8 317,970.2 323,975.9 329,981.5 335,987.0 340,992.4 346,997.5 352,1002.8 358,1008.0 364,1011.8 369,1015.2 375,1018.7 381,1022.1 387,1025.1 393,1028.3 398,1031.3 404,1034.4 410,1037.4 416,1040.0 421,1042.5 427,1045.1 433,1047.8 439,1050.4 445,1053.0 450,1055.5 456,1054.7 462,1052.8 468,1048.9 474,1045.7 479,1042.7 485,1038.3 491,1034.5 497,1031.3 502,1028.4 508,1025.9 514,1023.4 520,1020.6 526,1017.9 531,1015.2 537,1011.5 543,1009.1 549,1006.6 555,1004.1 560,1001.5 566,998.2 572,994.9 578,991.9 583,989.9 589,987.9 595,985.9 601,983.4 607,981.0 612,978.6 618,977.7 624,976.4 630,974.7 636,973.2 641,970.4 647,966.6 653,963.3 659,961.0 664,959.2 670,957.9 676,956.5 682,955.1 688,954.0 693,952.8 699,951.7 705,951.4 711,952.0 717,953.1 722,952.7 728,952.1 734,951.8 740,951.4 745,951.0 751,950.6 757,949.6 763,948.8 769,948.7 774,947.2 780,945.7 786,944.8 792,943.9 798,942.6 803,941.5 809,939.9 815,937.2 821,933.3 826,929.4 832,925.6 838,921.8 844,917.8 850,912.9 855,906.5 861,899.6 867,892.3 873,885.0 879,876.7 884,868.6 890,860.8 896,854.1 902,847.0 907,840.0 913,833.1 919,825.6 925,818.7 931,811.9 936,805.4 942,799.6 948,795.4 954,791.8 960,787.7 965,782.3 971,777.8 977,772.8 983,766.7 988,760.1 994,752.1 1000,744.5 1006,737.2 1012,728.0 1017,718.1 1023,709.7 1029,702.1 1035,694.9 1041,687.6 1046,681.3 1052,676.5 1058,670.5 1064,665.2 1069,656.7 1075,648.8 1081,641.1 1087,635.7 1093,629.3 1098,623.6 1104,618.0 1110,613.3 1116,608.6 1122,604.0 1127,599.9 1133,595.8 1139,591.2 1145,587.5 1150,583.8 1156,580.4 1162,576.9 1168,573.4 1174,570.0 1179,566.5 1185,562.6 1191,557.5 1197,552.8 1203,548.5 1208,544.7 1214,541.1 1220,537.2 1226,533.3 1231,530.1 1237,526.9 1243,524.0 1249,522.2 1255,520.7 1260,519.2 1266,519.1 1272,518.3 1278,517.5 1284,516.1 1289,514.5 1295,513.2 1301,511.0 1307,508.3 1312,505.5 1318,502.8 1324,500.2 1330,496.8 1336,494.5 1341,491.9 1347,490.1 1353,490.7 1359,491.7 1365,490.9 1370,489.7 1376,489.0 1382,489.0 1388,489.3 1393,490.0 1399,490.4 1405,490.3 1411,490.3 1417,490.7 1422,491.5 1428,492.0 1434,492.1 1440,492.1 1446,491.3 1451,490.6 1457,490.6 1463,490.9 1469,491.6 1474,492.1 1480,492.6 1486,492.8 1492,494.4 1498,497.4 1503,499.8 1509,502.6 1515,504.8 1521,507.1 1527,508.5 1532,510.0 1538,512.1 1544,514.3 1550,517.2 1555,520.6 1561,523.7 1567,527.1 1573,530.8 1579,533.9 1584,537.5 1590,541.9 1596,546.6 1602,551.2 1608,555.5 1613,559.1 1619,562.6 1625,565.7 1631,568.8 1636,571.7 1642,574.9 1648,577.9 1654,581.9 1660,584.8 1665,586.7 1671,588.9 1677,591.6 1683,594.1 1689,596.5 1694,598.6 1700,599.6 1706,600.5 1712,601.9 1717,604.0 1723,606.0 1729,608.2 1735,610.8 1741,613.4 1746,616.6 1752,619.8 1758,622.2 1764,624.5 1770,626.7 1775,628.8 1781,631.1 1787,633.4 1793,635.9 1799,638.3 1804,640.5 1810,642.7 1816,644.9 1822,646.9 1827,648.8 1833,650.6 1839,651.6 1845,652.7 1851,653.6 1856,654.1 1862,654.1 1868,654.9 1874,655.9 1880,657.1 1885,658.3 1891,659.2 1897,660.3 1903,660.1 1908,659.7 1914,659.6 1920,659.5 1926,659.5 1932,659.5 1937,660.0 1943,661.9 1949,663.6 1955,665.3 1961,667.0 1966,668.7 1972,671.1 1978,672.9 1984,674.0 1989,675.3 1995,677.6 2001,680.4 2007,684.6 2013,689.8 2018,694.5 2024,699.7 2030,705.4 2036,712.8 2042,718.7 2047,724.5 2053,730.1 2059,735.6 2065,741.5 2070,747.7 2076,753.9 2082,759.4 2088,764.6 2094,770.4 2099,776.0 2105,781.5 2111,787.1 2117,792.8 2123,798.2 2128,803.5 2134,808.9 2140,814.8 2146,820.6 2151,825.1 2157,829.7 2163,834.8 2169,839.7 2175,844.6 2180,848.9 2186,853.5 2192,856.9 2198,860.7 2204,865.1 2209,869.5 2215,874.0 2221,878.1 2227,881.8 2232,885.4 2238,888.8 2244,891.9 2250,895.0 2256,897.5 2261,898.7 2267,900.1 2273,902.2 2279,904.9 2285,907.4 2290,909.8" fill="none" stroke="#5e35b1" stroke-width="2.0" stroke-linejoin="round" stroke-linecap="round"/>
<g stroke="#000" fill="#000" stroke-linejoin="round" stroke-linecap="round">
<path d="M2007 1048L2348 1044" stroke-width="4" fill="none"/>
<path d="M2023.5 1237.5L2354 1049" stroke-width="4" fill="none"/>
<path d="M2313.6 862L2335.4 897.4L2324.2 895L2314.2 1040L2313.0 1040L2303 895L2292 897.4z" stroke-width="4"/>
<path d="M2040 1049L2060 1085.5L2052 1083L2042.0 1227L2040.8000000000002 1227L2030.5 1083L2020 1085.5z" stroke-width="4"/>
</g>
<path d="M21 812.2h2V852.0h-2zM27 790.0h2V821.0h-2zM33 791.1h2V913.0h-2zM39 894.1h2V971.7h-2zM44 903.0h2V997.2h-2zM50 949.1h2V1006.0h-2zM56 975.0h2V1071.4h-2zM62 987.2h2V1040.4h-2zM67 886.4h2V1029.3h-2zM73 894.1h2V1063.7h-2zM79 1010.5h2V1106.9h-2zM85 990.5h2V1036.0h-2zM91 971.3h2V1027.1h-2zM96 996.1h2V1058.1h-2zM102 1013.8h2V1055.9h-2zM108 1013.8h2V1110.2h-2zM114 1094.4h2V1193.1h-2zM120 1121.0h2V1221.9h-2zM125 1124.4h2V1183.1h-2zM131 1141.0h2V1186.4h-2zM137 1129.5h2V1185.3h-2zM143 1124.4h2V1146.5h-2zM148 1130.6h2V1167.6h-2zM154 1126.1h2V1159.8h-2zM160 1133.2h2V1162.7h-2zM166 1072.5h2V1138.6h-2zM172 1073.6h2V1116.8h-2zM177 1111.1h2V1133.2h-2zM183 1102.2h2V1121.0h-2zM189 1095.5h2V1114.4h-2zM195 1059.2h2V1104.6h-2zM201 1063.7h2V1085.8h-2zM206 1070.3h2V1112.4h-2zM212 1088.0h2V1109.1h-2zM218 1098.9h2V1169.8h-2zM224 1145.4h2V1209.7h-2zM229 1175.3h2V1214.1h-2zM235 1173.1h2V1209.7h-2zM241 1137.0h2V1189.8h-2zM247 1126.6h2V1206.4h-2zM253 1178.2h2V1223.5h-2zM258 1182.0h2V1218.6h-2zM264 1186.4h2V1216.4h-2zM270 1191.5h2V1338.3h-2zM276 1284.4h2V1422.5h-2zM282 1293.9h2V1402.6h-2zM287 1256.3h2V1432.5h-2zM293 1265.1h2V1378.2h-2zM299 1309.5h2V1358.7h-2zM305 1266.7h2V1333.8h-2zM310 1276.2h2V1323.9h-2zM316 1255.2h2V1308.4h-2zM322 1271.3h2V1311.7h-2zM328 1297.3h2V1337.8h-2zM334 1295.7h2V1323.9h-2zM339 1304.6h2V1319.4h-2zM345 1287.3h2V1311.7h-2zM351 1294.4h2V1322.8h-2zM357 1271.8h2V1323.9h-2zM363 1210.8h2V1337.8h-2zM368 1180.9h2V1225.2h-2zM374 1197.5h2V1236.3h-2zM380 1185.3h2V1228.6h-2zM386 1178.7h2V1207.5h-2zM392 1171.6h2V1203.1h-2zM397 1185.3h2V1224.1h-2zM403 1178.7h2V1207.5h-2zM409 1190.2h2V1230.8h-2zM415 1163.2h2V1201.9h-2zM420 1164.3h2V1189.8h-2zM426 1174.2h2V1192.4h-2zM432 1174.2h2V1196.4h-2zM438 1188.6h2V1206.4h-2zM444 1187.5h2V1221.2h-2zM449 1175.3h2V1200.8h-2zM455 1009.3h2V1191.0h-2zM461 908.5h2V1024.8h-2zM467 869.3h2V971.6h-2zM473 867.5h2V926.2h-2zM478 860.9h2V937.3h-2zM484 823.2h2V935.1h-2zM490 829.4h2V886.3h-2zM496 854.2h2V911.8h-2zM501 853.1h2V894.1h-2zM507 890.8h2V922.9h-2zM513 874.1h2V969.4h-2zM519 888.6h2V959.5h-2zM525 874.1h2V925.1h-2zM530 864.2h2V920.7h-2zM536 838.3h2V887.4h-2zM542 825.4h2V904.1h-2zM548 878.6h2V900.7h-2zM554 885.2h2V916.3h-2zM559 869.3h2V900.7h-2zM565 830.9h2V899.6h-2zM571 838.7h2V864.2h-2zM577 807.2h2V862.6h-2zM582 853.1h2V900.3h-2zM588 886.3h2V911.8h-2zM594 887.4h2V916.3h-2zM600 864.2h2V911.8h-2zM606 850.9h2V875.3h-2zM611 842.0h2V874.1h-2zM617 855.3h2V943.9h-2zM623 893.0h2V946.2h-2zM629 888.6h2V918.5h-2zM635 887.4h2V907.4h-2zM640 836.5h2V911.8h-2zM646 793.9h2V849.8h-2zM652 778.4h2V820.5h-2zM658 807.7h2V862.6h-2zM663 853.1h2V925.1h-2zM669 875.3h2V907.4h-2zM675 884.1h2V907.4h-2zM681 842.0h2V898.5h-2zM687 863.1h2V927.3h-2zM692 887.4h2V916.3h-2zM698 887.4h2V903.0h-2zM704 880.1h2V952.8h-2zM710 922.9h2V1010.4h-2zM716 973.9h2V1053.6h-2zM721 927.3h2V1022.6h-2zM727 910.7h2V948.4h-2zM733 916.3h2V943.9h-2zM739 897.4h2V942.8h-2zM744 917.4h2V946.2h-2zM750 922.9h2V938.4h-2zM756 896.3h2V935.1h-2zM762 896.3h2V929.5h-2zM768 904.1h2V947.3h-2zM773 863.1h2V950.6h-2zM779 857.5h2V884.1h-2zM785 867.9h2V911.8h-2zM791 894.1h2V903.0h-2zM797 867.9h2V902.5h-2zM802 873.0h2V894.1h-2zM808 859.7h2V895.9h-2zM814 805.0h2V872.4h-2zM820 741.5h2V813.2h-2zM825 730.4h2V765.9h-2zM831 748.1h2V769.2h-2zM837 735.9h2V759.2h-2zM843 717.5h2V751.5h-2zM849 699.4h2V762.5h-2zM854 623.6h2V711.6h-2zM860 597.4h2V651.7h-2zM866 560.2h2V612.5h-2zM872 576.4h2V600.8h-2zM878 524.3h2V581.9h-2zM883 516.6h2V552.0h-2zM889 530.5h2V572.0h-2zM895 538.7h2V595.2h-2zM901 536.5h2V600.3h-2zM906 543.8h2V583.0h-2zM912 531.4h2V558.0h-2zM918 511.0h2V545.4h-2zM924 497.3h2V540.9h-2zM930 510.6h2V549.1h-2zM935 522.5h2V559.3h-2zM941 512.1h2V557.1h-2zM947 553.1h2V621.4h-2zM953 594.8h2V637.3h-2zM959 598.6h2V640.0h-2zM964 545.4h2V606.3h-2zM970 548.7h2V593.0h-2zM976 554.2h2V586.4h-2zM982 500.4h2V565.3h-2zM987 469.4h2V510.4h-2zM993 414.0h2V482.7h-2zM999 413.6h2V448.4h-2zM1005 406.3h2V447.3h-2zM1011 352.0h2V435.1h-2zM1016 324.3h2V365.3h-2zM1022 323.2h2V387.4h-2zM1028 345.3h2V404.1h-2zM1034 380.1h2V403.4h-2zM1040 363.1h2V398.5h-2zM1045 381.9h2V433.5h-2zM1051 408.5h2V467.9h-2zM1057 403.4h2V469.4h-2zM1063 407.4h2V438.9h-2zM1068 305.0h2V438.4h-2zM1074 315.4h2V347.6h-2zM1080 292.2h2V337.6h-2zM1086 321.4h2V411.8h-2zM1092 353.1h2V415.1h-2zM1097 347.1h2V383.0h-2zM1103 353.1h2V392.3h-2zM1109 375.3h2V427.3h-2zM1115 396.3h2V427.3h-2zM1121 379.0h2V407.4h-2zM1126 380.1h2V437.3h-2zM1132 395.2h2V427.3h-2zM1138 380.1h2V422.9h-2zM1144 382.3h2V425.1h-2zM1149 380.1h2V455.7h-2zM1155 412.9h2V431.3h-2zM1161 411.8h2V425.1h-2zM1167 402.3h2V424.0h-2zM1173 403.0h2V423.6h-2zM1178 388.1h2V421.8h-2zM1184 381.9h2V410.7h-2zM1190 329.8h2V387.4h-2zM1196 327.2h2V357.5h-2zM1202 340.9h2V358.6h-2zM1207 345.3h2V385.2h-2zM1213 369.7h2V391.9h-2zM1219 355.3h2V402.3h-2zM1225 350.2h2V365.3h-2zM1230 354.6h2V390.8h-2zM1236 376.4h2V387.4h-2zM1242 378.6h2V394.1h-2zM1248 388.6h2V470.5h-2zM1254 434.0h2V457.2h-2zM1259 439.5h2V466.1h-2zM1265 447.3h2V524.4h-2zM1271 468.3h2V513.8h-2zM1277 475.0h2V489.4h-2zM1283 451.7h2V491.6h-2zM1288 431.8h2V466.6h-2zM1294 430.7h2V461.7h-2zM1300 407.4h2V456.1h-2zM1306 373.0h2V411.8h-2zM1311 359.7h2V390.8h-2zM1317 374.1h2V389.7h-2zM1323 355.3h2V384.6h-2zM1329 332.5h2V380.1h-2zM1335 329.4h2V392.5h-2zM1340 367.5h2V395.2h-2zM1346 371.9h2V425.1h-2zM1352 400.7h2V617.0h-2zM1358 510.4h2V565.8h-2zM1364 440.6h2V553.6h-2zM1369 420.2h2V473.9h-2zM1375 426.2h2V508.2h-2zM1381 434.0h2V498.2h-2zM1387 465.0h2V523.3h-2zM1392 494.9h2V559.2h-2zM1398 500.5h2V524.8h-2zM1404 477.2h2V523.7h-2zM1410 465.0h2V502.7h-2zM1416 459.5h2V519.3h-2zM1421 509.3h2V550.3h-2zM1427 499.3h2V530.4h-2zM1433 477.2h2V518.2h-2zM1439 492.7h2V502.7h-2zM1445 443.9h2V501.6h-2zM1450 429.1h2V462.8h-2zM1456 446.2h2V498.2h-2zM1462 476.1h2V520.4h-2zM1468 494.9h2V558.1h-2zM1473 506.0h2V530.4h-2zM1479 511.5h2V520.4h-2zM1485 503.8h2V520.4h-2zM1491 504.9h2V590.2h-2zM1497 565.5h2V723.5h-2zM1502 609.1h2V692.5h-2zM1508 615.3h2V671.8h-2zM1514 611.4h2V685.8h-2zM1520 608.3h2V640.8h-2zM1526 573.2h2V640.8h-2zM1531 564.4h2V601.6h-2zM1537 567.0h2V628.2h-2zM1543 581.0h2V636.4h-2zM1549 587.0h2V696.2h-2zM1554 668.1h2V720.6h-2zM1560 676.3h2V710.6h-2zM1566 671.2h2V739.4h-2zM1572 678.5h2V754.5h-2zM1578 693.3h2V757.2h-2zM1583 705.8h2V780.4h-2zM1589 723.9h2V806.4h-2zM1595 777.1h2V861.3h-2zM1601 804.1h2V834.7h-2zM1607 785.5h2V814.8h-2zM1612 746.1h2V814.8h-2zM1618 748.3h2V785.5h-2zM1624 728.4h2V775.3h-2zM1630 721.3h2V745.6h-2zM1635 713.3h2V742.1h-2zM1641 726.1h2V751.6h-2zM1647 726.6h2V747.2h-2zM1653 743.9h2V829.2h-2zM1659 731.7h2V808.6h-2zM1664 679.2h2V743.9h-2zM1670 672.3h2V730.6h-2zM1676 685.1h2V748.3h-2zM1682 720.6h2V738.3h-2zM1688 698.4h2V766.5h-2zM1693 689.6h2V728.8h-2zM1699 630.4h2V712.8h-2zM1705 616.4h2V669.6h-2zM1711 648.1h2V698.4h-2zM1716 665.2h2V727.2h-2zM1722 702.9h2V717.3h-2zM1728 704.4h2V732.3h-2zM1734 690.7h2V773.1h-2zM1740 747.2h2V779.3h-2zM1745 733.2h2V804.8h-2zM1751 742.8h2V811.5h-2zM1757 736.1h2V800.4h-2zM1763 746.1h2V751.6h-2zM1769 738.3h2V760.5h-2zM1774 719.0h2V752.7h-2zM1780 731.0h2V771.6h-2zM1786 751.6h2V776.7h-2zM1792 751.6h2V772.7h-2zM1798 743.9h2V772.7h-2zM1803 754.5h2V766.0h-2zM1809 753.8h2V759.4h-2zM1815 726.1h2V768.2h-2zM1821 740.5h2V766.0h-2zM1826 735.0h2V752.7h-2zM1832 739.4h2V752.3h-2zM1838 698.4h2V765.6h-2zM1844 701.8h2V718.4h-2zM1850 692.9h2V705.8h-2zM1855 666.3h2V701.8h-2zM1861 654.1h2V688.5h-2zM1867 656.3h2V704.0h-2zM1873 688.9h2V726.6h-2zM1879 699.5h2V726.1h-2zM1884 712.8h2V719.5h-2zM1890 700.0h2V718.4h-2zM1896 692.9h2V722.8h-2zM1902 636.4h2V716.2h-2zM1907 629.1h2V663.0h-2zM1913 634.2h2V663.0h-2zM1919 650.8h2V668.5h-2zM1925 653.0h2V659.7h-2zM1931 637.5h2V661.9h-2zM1936 659.7h2V692.9h-2zM1942 684.0h2V779.3h-2zM1948 722.1h2V782.6h-2zM1954 731.0h2V770.5h-2zM1960 737.2h2V774.4h-2zM1965 753.8h2V759.4h-2zM1971 754.9h2V807.7h-2zM1977 757.2h2V799.3h-2zM1983 729.5h2V772.7h-2zM1988 731.0h2V743.9h-2zM1994 739.9h2V818.6h-2zM2000 796.4h2V857.3h-2zM2006 831.9h2V1000.3h-2zM2012 914.5h2V1009.1h-2zM2017 948.9h2V1037.6h-2zM2023 955.6h2V1056.4h-2zM2029 982.2h2V1068.6h-2zM2035 1031.4h2V1192.7h-2zM2041 1065.3h2V1229.3h-2zM2046 1052.0h2V1106.3h-2zM2052 1040.9h2V1075.2h-2zM2058 1041.6h2V1101.8h-2zM2064 1053.1h2V1109.6h-2zM2069 1090.3h2V1148.8h-2zM2075 1104.0h2V1152.8h-2zM2081 1073.0h2V1138.4h-2zM2087 1057.5h2V1085.2h-2zM2093 1060.2h2V1136.8h-2zM2098 1095.2h2V1134.0h-2zM2104 1097.4h2V1130.6h-2zM2110 1087.4h2V1139.1h-2zM2116 1110.2h2V1146.6h-2zM2122 1112.9h2V1139.1h-2zM2127 1105.8h2V1120.7h-2zM2133 1111.8h2V1134.0h-2zM2139 1122.9h2V1179.8h-2zM2145 1165.0h2V1198.9h-2zM2150 1040.9h2V1175.0h-2zM2156 1068.1h2V1112.9h-2zM2162 1090.7h2V1156.1h-2zM2168 1110.7h2V1180.5h-2zM2174 1079.7h2V1145.7h-2zM2179 1064.2h2V1139.5h-2zM2185 1085.9h2V1136.2h-2zM2191 1018.7h2V1128.4h-2zM2197 1034.2h2V1079.7h-2zM2203 1062.4h2V1123.5h-2zM2208 1106.3h2V1127.3h-2zM2214 1112.9h2V1143.5h-2zM2220 1080.3h2V1136.2h-2zM2226 1065.3h2V1108.5h-2zM2231 1066.4h2V1100.7h-2zM2237 1063.0h2V1095.2h-2zM2243 1015.4h2V1075.2h-2zM2249 1057.5h2V1076.3h-2zM2255 1017.6h2V1066.4h-2zM2260 945.6h2V1032.0h-2zM2266 950.0h2V979.9h-2zM2272 960.0h2V1037.6h-2zM2278 1005.4h2V1060.8h-2zM2284 1029.1h2V1053.1h-2zM2289 1032.0h2V1043.1h-2z" fill="#6a6d76"/>
<path d="M31 798H37V900H31zM37 900H43V907H37zM42 907H48V967H42zM48 967H54V977H48zM54 977H60V1005H54zM60 1005H66V1012H60zM71 899H77V1041H71zM89 1003H95V1018H89zM94 1018H100V1043H94zM106 1019H112V1096H106zM112 1096H118V1168H112zM123 1141H129V1146H123zM129 1146H135V1168H129zM146 1134H152V1156H146zM170 1079H176V1111H170zM175 1111H181V1120H175zM199 1070H205V1075H199zM204 1075H210V1100H204zM210 1100H216V1103H210zM216 1103H222V1152H216zM222 1152H228V1185H222zM227 1185H233V1195H227zM245 1148H251V1201H245zM262 1191H268V1196H262zM268 1196H274V1316H268zM274 1316H280V1332H274zM280 1332H286V1379H280zM291 1267H297V1349H291zM308 1280H314V1306H308zM320 1292H326V1311H320zM326 1311H332V1317H326zM349 1298H355V1312H349zM355 1312H361V1316H355zM372 1201H378V1213H372zM390 1189H396V1202H390zM407 1198H413V1201H407zM424 1179H430V1182H424zM430 1182H436V1194H430zM442 1190H448V1192H442zM471 876H477V900H471zM476 900H482V906H476zM488 843H494V866H488zM494 866H500V887H494zM499 887H505V892H499zM505 892H511V913H505zM540 848H546V895H540zM575 843H581V858H575zM580 858H586V893H580zM586 893H592V895H586zM604 868H610V871H604zM615 867H621V935H615zM633 896H639V901H633zM650 798H656V812H650zM656 812H662V854H656zM661 854H667V876H661zM667 876H673V893H667zM679 889H685V891H679zM685 891H691V901H685zM696 896H702V898H696zM702 897H708V938H702zM708 938H714V981H708zM714 981H720V1007H714zM731 923H737V934H731zM737 934H743V936H737zM760 905H766V910H760zM766 910H772V940H766zM783 873H789V901H783zM800 881H806V890H800zM829 755H835V758H829zM887 539H893V542H887zM893 542H899V571H893zM922 514H928V530H922zM928 530H934V532H928zM939 529H945V554H939zM945 554H951V607H945zM951 607H957V631H951zM968 550H974V576H968zM997 428H1003V430H997zM1003 429H1009V435H1003zM1020 330H1026V369H1020zM1026 369H1032V390H1026zM1032 390H1038V394H1032zM1043 385H1049V416H1043zM1049 416H1055V467H1049zM1061 412H1067V436H1061zM1072 315H1078V325H1072zM1084 325H1090V404H1084zM1095 360H1101V377H1095zM1107 376H1113V407H1107zM1124 401H1130V416H1124zM1142 389H1148V420H1142zM1153 419H1159V425H1153zM1194 338H1200V346H1194zM1200 346H1206V358H1200zM1205 358H1211V374H1205zM1211 374H1217V378H1211zM1228 360H1234V384H1228zM1240 383H1246V389H1240zM1246 389H1252V440H1246zM1252 440H1258V448H1252zM1257 448H1263V450H1257zM1263 450H1269V513H1263zM1275 477H1281V480H1275zM1292 437H1298V452H1292zM1315 377H1321V381H1315zM1333 342H1339V390H1333zM1344 373H1350V405H1344zM1350 405H1356V522H1350zM1356 522H1362V542H1356zM1373 431H1379V456H1373zM1379 456H1385V487H1379zM1385 487H1391V508H1385zM1390 508H1396V522H1390zM1408 488H1414V490H1408zM1414 489H1420V512H1414zM1419 512H1425V529H1419zM1448 449H1454V457H1448zM1454 457H1460V489H1454zM1460 489H1466V505H1460zM1466 505H1472V529H1466zM1489 506H1495V578H1489zM1495 578H1501V660H1495zM1506 624H1512V653H1506zM1518 621H1524V629H1518zM1529 584H1535V587H1529zM1535 587H1541V625H1535zM1541 625H1547V627H1541zM1547 626H1553V675H1547zM1552 675H1558V709H1552zM1564 694H1570V714H1564zM1570 714H1576V733H1570zM1581 707H1587V735H1581zM1587 735H1593V793H1587zM1593 793H1599V815H1593zM1628 735H1634V737H1628zM1639 733H1645V745H1639zM1651 744H1657V804H1651zM1668 687H1674V702H1668zM1674 702H1680V735H1674zM1709 649H1715V673H1709zM1714 673H1720V716H1714zM1726 709H1732V723H1726zM1732 723H1738V752H1732zM1738 752H1744V754H1738zM1743 753H1749V793H1743zM1778 739H1784V753H1778zM1784 753H1790V758H1784zM1790 758H1796V771H1790zM1813 757H1819V761H1813zM1824 751H1830V753H1824zM1865 657H1871V693H1865zM1871 693H1877V711H1871zM1877 711H1883V717H1877zM1882 717H1888V719H1882zM1894 708H1900V715H1894zM1911 641H1917V651H1911zM1917 651H1923V658H1917zM1929 655H1935V661H1929zM1934 661H1940V687H1934zM1940 687H1946V761H1940zM1952 749H1958V757H1952zM1963 755H1969V757H1963zM1969 756H1975V799H1969zM1986 735H1992V740H1986zM1992 740H1998V798H1992zM1998 798H2004V835H1998zM2004 835H2010V923H2004zM2010 923H2016V992H2010zM2021 962H2027V1007H2021zM2027 1007H2033V1042H2027zM2033 1042H2039V1188H2033zM2062 1060H2068V1095H2062zM2067 1095H2073V1132H2067zM2091 1068H2097V1120H2091zM2102 1106H2108V1108H2102zM2108 1107H2114V1124H2108zM2114 1124H2120V1128H2114zM2131 1117H2137V1124H2131zM2137 1124H2143V1171H2137zM2154 1079H2160V1093H2154zM2160 1093H2166V1136H2160zM2172 1121H2178V1132H2172zM2183 1093H2189V1112H2183zM2195 1049H2201V1073H2195zM2201 1073H2207V1114H2201zM2206 1114H2212V1118H2206zM2212 1118H2218V1133H2212zM2264 960H2270V972H2264zM2270 972H2276V1018H2270zM2276 1018H2282V1045H2276z" fill="#55100b"/><path d="M19 815H25V849H19zM25 798H31V815H25zM65 899H71V1012H65zM77 1032H83V1041H77zM83 1003H89V1032H83zM100 1019H106V1043H100zM118 1141H124V1168H118zM135 1145H141V1168H135zM141 1134H147V1145H141zM152 1138H158V1156H152zM158 1137H164V1139H158zM164 1079H170V1137H164zM181 1114H187V1120H181zM187 1102H193V1114H187zM193 1070H199V1102H193zM233 1189H239V1195H233zM239 1148H245V1189H239zM251 1192H257V1201H251zM256 1191H262V1193H256zM285 1267H291V1379H285zM297 1323H303V1349H297zM303 1280H309V1323H303zM314 1292H320V1306H314zM332 1314H338V1317H332zM337 1311H343V1314H337zM343 1298H349V1311H343zM361 1221H367V1316H361zM366 1201H372V1221H366zM378 1206H384V1213H378zM384 1189H390V1206H384zM395 1199H401V1202H395zM401 1198H407V1200H401zM413 1180H419V1201H413zM418 1179H424V1181H418zM436 1190H442V1194H436zM447 1188H453V1190H447zM453 1017H459V1188H453zM459 963H465V1017H459zM465 876H471V963H465zM482 843H488V906H482zM511 906H517V913H511zM517 895H523V906H517zM523 894H529V896H523zM528 887H534V894H528zM534 848H540V887H534zM546 894H552V896H546zM552 886H558V894H552zM557 883H563V886H557zM563 848H569V883H563zM569 843H575V848H569zM592 891H598V894H592zM598 868H604V891H598zM609 867H615V871H609zM621 913H627V935H621zM627 896H633V913H627zM638 842H644V901H638zM644 798H650V842H644zM673 889H679V893H673zM690 896H696V901H690zM719 937H725V1007H719zM725 923H731V937H725zM742 932H748V935H742zM748 928H754V932H748zM754 905H760V928H754zM771 879H777V940H771zM777 873H783V879H777zM789 900H795V902H789zM795 881H801V900H795zM806 865H812V890H806zM812 813H818V865H812zM818 757H824V813H818zM823 755H829V757H823zM835 750H841V758H835zM841 737H847V750H841zM847 701H853V737H847zM852 637H858V701H852zM858 610H864V637H858zM864 591H870V610H864zM870 581H876V591H870zM876 540H882V581H876zM881 539H887V541H881zM899 553H905V571H899zM904 549H910V553H904zM910 545H916V549H910zM916 514H922V545H916zM933 529H939V531H933zM957 605H963V631H957zM962 550H968V605H962zM974 558H980V576H974zM980 504H986V558H980zM985 483H991V504H985zM991 428H997V483H991zM1009 362H1015V435H1009zM1014 330H1020V362H1014zM1038 385H1044V394H1038zM1055 412H1061V467H1055zM1066 315H1072V436H1066zM1078 325H1084V327H1078zM1090 360H1096V404H1090zM1101 376H1107V378H1101zM1113 404H1119V407H1113zM1119 401H1125V404H1119zM1130 414H1136V416H1130zM1136 389H1142V414H1136zM1147 419H1153V421H1147zM1159 418H1165V425H1159zM1165 417H1171V419H1165zM1171 416H1177V418H1171zM1176 410H1182V416H1176zM1182 387H1188V410H1182zM1188 338H1194V387H1188zM1217 361H1223V378H1217zM1223 360H1229V362H1223zM1234 383H1240V385H1234zM1269 477H1275V513H1269zM1281 452H1287V480H1281zM1286 437H1292V452H1286zM1298 409H1304V452H1298zM1304 381H1310V409H1304zM1309 377H1315V381H1309zM1321 377H1327V381H1321zM1327 342H1333V377H1327zM1338 373H1344V390H1338zM1362 450H1368V542H1362zM1367 431H1373V450H1367zM1396 509H1402V522H1396zM1402 488H1408V509H1402zM1425 516H1431V529H1425zM1431 499H1437V516H1431zM1437 494H1443V499H1437zM1443 449H1449V494H1443zM1471 520H1477V529H1471zM1477 514H1483V520H1477zM1483 506H1489V514H1483zM1500 624H1506V660H1500zM1512 621H1518V653H1512zM1524 584H1530V629H1524zM1558 694H1564V709H1558zM1576 707H1582V733H1576zM1599 813H1605V815H1599zM1605 804H1611V813H1605zM1610 757H1616V804H1610zM1616 754H1622V757H1616zM1622 735H1628V754H1622zM1633 733H1639V736H1633zM1645 744H1651V746H1645zM1657 743H1663V804H1657zM1662 687H1668V743H1662zM1680 731H1686V735H1680zM1686 724H1692V731H1686zM1691 706H1697V724H1691zM1697 651H1703V706H1697zM1703 649H1709V651H1703zM1720 709H1726V716H1720zM1749 793H1755V795H1749zM1755 748H1761V793H1755zM1761 748H1767V750H1761zM1767 741H1773V748H1767zM1772 739H1778V741H1772zM1796 765H1802V771H1796zM1801 758H1807V765H1801zM1807 757H1813V759H1807zM1819 751H1825V761H1819zM1830 741H1836V752H1830zM1836 706H1842V741H1836zM1842 704H1848V706H1842zM1848 701H1854V704H1848zM1853 677H1859V701H1853zM1859 657H1865V677H1859zM1888 708H1894V718H1888zM1900 650H1906V715H1900zM1905 641H1911V650H1905zM1923 655H1929V658H1923zM1946 749H1952V761H1946zM1958 755H1964V757H1958zM1975 764H1981V799H1975zM1981 735H1987V764H1981zM2015 962H2021V992H2015zM2039 1077H2045V1188H2039zM2044 1068H2050V1077H2044zM2050 1066H2056V1068H2050zM2056 1060H2062V1066H2056zM2073 1130H2079V1132H2073zM2079 1084H2085V1130H2079zM2085 1068H2091V1084H2085zM2096 1106H2102V1120H2096zM2120 1120H2126V1128H2120zM2125 1117H2131V1120H2125zM2143 1171H2149V1173H2143zM2148 1079H2154V1171H2148zM2166 1121H2172V1136H2166zM2177 1093H2183V1132H2177zM2189 1049H2195V1112H2189zM2218 1108H2224V1133H2218zM2224 1089H2230V1108H2224zM2229 1082H2235V1089H2229zM2235 1073H2241V1082H2235zM2241 1064H2247V1073H2241zM2247 1062H2253V1064H2247zM2253 1029H2259V1062H2253zM2258 960H2264V1029H2258zM2282 1042H2288V1045H2282zM2287 1039H2293V1042H2287z" fill="#144a2a"/>
<path d="M32.7 799.7H35.3V898.3H32.7zM38.7 901.7H41.3V905.3H38.7zM43.7 908.7H46.3V965.3H43.7zM49.7 968.7H52.3V975.3H49.7zM55.7 978.7H58.3V1003.3H55.7zM61.7 1006.7H64.3V1010.3H61.7zM72.7 900.7H75.3V1039.3H72.7zM90.7 1004.7H93.3V1016.3H90.7zM95.7 1019.7H98.3V1041.3H95.7zM107.7 1020.7H110.3V1094.3H107.7zM113.7 1097.7H116.3V1166.3H113.7zM124.7 1142.7H127.3V1144.3H124.7zM130.7 1147.7H133.3V1166.3H130.7zM147.7 1135.7H150.3V1154.3H147.7zM171.7 1080.7H174.3V1109.3H171.7zM176.7 1112.7H179.3V1118.3H176.7zM200.7 1071.7H203.3V1073.3H200.7zM205.7 1076.7H208.3V1098.3H205.7zM217.7 1104.7H220.3V1150.3H217.7zM223.7 1153.7H226.3V1183.3H223.7zM228.7 1186.7H231.3V1193.3H228.7zM246.7 1149.7H249.3V1199.3H246.7zM263.7 1192.7H266.3V1194.3H263.7zM269.7 1197.7H272.3V1314.3H269.7zM275.7 1317.7H278.3V1330.3H275.7zM281.7 1333.7H284.3V1377.3H281.7zM292.7 1268.7H295.3V1347.3H292.7zM309.7 1281.7H312.3V1304.3H309.7zM321.7 1293.7H324.3V1309.3H321.7zM327.7 1312.7H330.3V1315.3H327.7zM350.7 1299.7H353.3V1310.3H350.7zM373.7 1202.7H376.3V1211.3H373.7zM391.7 1190.7H394.3V1200.3H391.7zM431.7 1183.7H434.3V1192.3H431.7zM472.7 877.7H475.3V898.3H472.7zM477.7 901.7H480.3V904.3H477.7zM489.7 844.7H492.3V864.3H489.7zM495.7 867.7H498.3V885.3H495.7zM500.7 888.7H503.3V890.3H500.7zM506.7 893.7H509.3V911.3H506.7zM541.7 849.7H544.3V893.3H541.7zM576.7 844.7H579.3V856.3H576.7zM581.7 859.7H584.3V891.3H581.7zM616.7 868.7H619.3V933.3H616.7zM634.7 897.7H637.3V899.3H634.7zM651.7 799.7H654.3V810.3H651.7zM657.7 813.7H660.3V852.3H657.7zM662.7 855.7H665.3V874.3H662.7zM668.7 877.7H671.3V891.3H668.7zM686.7 892.7H689.3V899.3H686.7zM703.7 898.7H706.3V936.3H703.7zM709.7 939.7H712.3V979.3H709.7zM715.7 982.7H718.3V1005.3H715.7zM732.7 924.7H735.3V932.3H732.7zM761.7 906.7H764.3V908.3H761.7zM767.7 911.7H770.3V938.3H767.7zM784.7 874.7H787.3V899.3H784.7zM801.7 882.7H804.3V888.3H801.7zM894.7 543.7H897.3V569.3H894.7zM923.7 515.7H926.3V528.3H923.7zM940.7 530.7H943.3V552.3H940.7zM946.7 555.7H949.3V605.3H946.7zM952.7 608.7H955.3V629.3H952.7zM969.7 551.7H972.3V574.3H969.7zM1004.7 430.7H1007.3V433.3H1004.7zM1021.7 331.7H1024.3V367.3H1021.7zM1027.7 370.7H1030.3V388.3H1027.7zM1044.7 386.7H1047.3V414.3H1044.7zM1050.7 417.7H1053.3V465.3H1050.7zM1062.7 413.7H1065.3V434.3H1062.7zM1073.7 316.7H1076.3V323.3H1073.7zM1085.7 326.7H1088.3V402.3H1085.7zM1096.7 361.7H1099.3V375.3H1096.7zM1108.7 377.7H1111.3V405.3H1108.7zM1125.7 402.7H1128.3V414.3H1125.7zM1143.7 390.7H1146.3V418.3H1143.7zM1154.7 420.7H1157.3V423.3H1154.7zM1195.7 339.7H1198.3V344.3H1195.7zM1201.7 347.7H1204.3V356.3H1201.7zM1206.7 359.7H1209.3V372.3H1206.7zM1229.7 361.7H1232.3V382.3H1229.7zM1241.7 384.7H1244.3V387.3H1241.7zM1247.7 390.7H1250.3V438.3H1247.7zM1253.7 441.7H1256.3V446.3H1253.7zM1264.7 451.7H1267.3V511.3H1264.7zM1293.7 438.7H1296.3V450.3H1293.7zM1334.7 343.7H1337.3V388.3H1334.7zM1345.7 374.7H1348.3V403.3H1345.7zM1351.7 406.7H1354.3V520.3H1351.7zM1357.7 523.7H1360.3V540.3H1357.7zM1374.7 432.7H1377.3V454.3H1374.7zM1380.7 457.7H1383.3V485.3H1380.7zM1386.7 488.7H1389.3V506.3H1386.7zM1391.7 509.7H1394.3V520.3H1391.7zM1415.7 490.7H1418.3V510.3H1415.7zM1420.7 513.7H1423.3V527.3H1420.7zM1449.7 450.7H1452.3V455.3H1449.7zM1455.7 458.7H1458.3V487.3H1455.7zM1461.7 490.7H1464.3V503.3H1461.7zM1467.7 506.7H1470.3V527.3H1467.7zM1490.7 507.7H1493.3V576.3H1490.7zM1496.7 579.7H1499.3V658.3H1496.7zM1507.7 625.7H1510.3V651.3H1507.7zM1519.7 622.7H1522.3V627.3H1519.7zM1536.7 588.7H1539.3V623.3H1536.7zM1548.7 627.7H1551.3V673.3H1548.7zM1553.7 676.7H1556.3V707.3H1553.7zM1565.7 695.7H1568.3V712.3H1565.7zM1571.7 715.7H1574.3V731.3H1571.7zM1582.7 708.7H1585.3V733.3H1582.7zM1588.7 736.7H1591.3V791.3H1588.7zM1594.7 794.7H1597.3V813.3H1594.7zM1640.7 734.7H1643.3V743.3H1640.7zM1652.7 745.7H1655.3V802.3H1652.7zM1669.7 688.7H1672.3V700.3H1669.7zM1675.7 703.7H1678.3V733.3H1675.7zM1710.7 650.7H1713.3V671.3H1710.7zM1715.7 674.7H1718.3V714.3H1715.7zM1727.7 710.7H1730.3V721.3H1727.7zM1733.7 724.7H1736.3V750.3H1733.7zM1744.7 754.7H1747.3V791.3H1744.7zM1779.7 740.7H1782.3V751.3H1779.7zM1785.7 754.7H1788.3V756.3H1785.7zM1791.7 759.7H1794.3V769.3H1791.7zM1866.7 658.7H1869.3V691.3H1866.7zM1872.7 694.7H1875.3V709.3H1872.7zM1878.7 712.7H1881.3V715.3H1878.7zM1895.7 709.7H1898.3V713.3H1895.7zM1912.7 642.7H1915.3V649.3H1912.7zM1918.7 652.7H1921.3V656.3H1918.7zM1930.7 656.7H1933.3V659.3H1930.7zM1935.7 662.7H1938.3V685.3H1935.7zM1941.7 688.7H1944.3V759.3H1941.7zM1953.7 750.7H1956.3V755.3H1953.7zM1970.7 757.7H1973.3V797.3H1970.7zM1987.7 736.7H1990.3V738.3H1987.7zM1993.7 741.7H1996.3V796.3H1993.7zM1999.7 799.7H2002.3V833.3H1999.7zM2005.7 836.7H2008.3V921.3H2005.7zM2011.7 924.7H2014.3V990.3H2011.7zM2022.7 963.7H2025.3V1005.3H2022.7zM2028.7 1008.7H2031.3V1040.3H2028.7zM2034.7 1043.7H2037.3V1186.3H2034.7zM2063.7 1061.7H2066.3V1093.3H2063.7zM2068.7 1096.7H2071.3V1130.3H2068.7zM2092.7 1069.7H2095.3V1118.3H2092.7zM2109.7 1108.7H2112.3V1122.3H2109.7zM2132.7 1118.7H2135.3V1122.3H2132.7zM2138.7 1125.7H2141.3V1169.3H2138.7zM2155.7 1080.7H2158.3V1091.3H2155.7zM2161.7 1094.7H2164.3V1134.3H2161.7zM2173.7 1122.7H2176.3V1130.3H2173.7zM2184.7 1094.7H2187.3V1110.3H2184.7zM2196.7 1050.7H2199.3V1071.3H2196.7zM2202.7 1074.7H2205.3V1112.3H2202.7zM2213.7 1119.7H2216.3V1131.3H2213.7zM2265.7 961.7H2268.3V970.3H2265.7zM2271.7 973.7H2274.3V1016.3H2271.7zM2277.7 1019.7H2280.3V1043.3H2277.7z" fill="#e85c48"/><path d="M20.7 816.7H23.3V847.3H20.7zM26.7 799.7H29.3V813.3H26.7zM66.7 900.7H69.3V1010.3H66.7zM78.7 1033.7H81.3V1039.3H78.7zM84.7 1004.7H87.3V1030.3H84.7zM101.7 1020.7H104.3V1041.3H101.7zM119.7 1142.7H122.3V1166.3H119.7zM136.7 1146.7H139.3V1166.3H136.7zM142.7 1135.7H145.3V1143.3H142.7zM153.7 1139.7H156.3V1154.3H153.7zM165.7 1080.7H168.3V1135.3H165.7zM182.7 1115.7H185.3V1118.3H182.7zM188.7 1103.7H191.3V1112.3H188.7zM194.7 1071.7H197.3V1100.3H194.7zM234.7 1190.7H237.3V1193.3H234.7zM240.7 1149.7H243.3V1187.3H240.7zM252.7 1193.7H255.3V1199.3H252.7zM286.7 1268.7H289.3V1377.3H286.7zM298.7 1324.7H301.3V1347.3H298.7zM304.7 1281.7H307.3V1321.3H304.7zM315.7 1293.7H318.3V1304.3H315.7zM344.7 1299.7H347.3V1309.3H344.7zM362.7 1222.7H365.3V1314.3H362.7zM367.7 1202.7H370.3V1219.3H367.7zM379.7 1207.7H382.3V1211.3H379.7zM385.7 1190.7H388.3V1204.3H385.7zM414.7 1181.7H417.3V1199.3H414.7zM454.7 1018.7H457.3V1186.3H454.7zM460.7 964.7H463.3V1015.3H460.7zM466.7 877.7H469.3V961.3H466.7zM483.7 844.7H486.3V904.3H483.7zM512.7 907.7H515.3V911.3H512.7zM518.7 896.7H521.3V904.3H518.7zM529.7 888.7H532.3V892.3H529.7zM535.7 849.7H538.3V885.3H535.7zM553.7 887.7H556.3V892.3H553.7zM564.7 849.7H567.3V881.3H564.7zM570.7 844.7H573.3V846.3H570.7zM599.7 869.7H602.3V889.3H599.7zM622.7 914.7H625.3V933.3H622.7zM628.7 897.7H631.3V911.3H628.7zM639.7 843.7H642.3V899.3H639.7zM645.7 799.7H648.3V840.3H645.7zM691.7 897.7H694.3V899.3H691.7zM720.7 938.7H723.3V1005.3H720.7zM726.7 924.7H729.3V935.3H726.7zM755.7 906.7H758.3V926.3H755.7zM772.7 880.7H775.3V938.3H772.7zM778.7 874.7H781.3V877.3H778.7zM796.7 882.7H799.3V898.3H796.7zM807.7 866.7H810.3V888.3H807.7zM813.7 814.7H816.3V863.3H813.7zM819.7 758.7H822.3V811.3H819.7zM836.7 751.7H839.3V756.3H836.7zM842.7 738.7H845.3V748.3H842.7zM848.7 702.7H851.3V735.3H848.7zM853.7 638.7H856.3V699.3H853.7zM859.7 611.7H862.3V635.3H859.7zM865.7 592.7H868.3V608.3H865.7zM871.7 582.7H874.3V589.3H871.7zM877.7 541.7H880.3V579.3H877.7zM900.7 554.7H903.3V569.3H900.7zM917.7 515.7H920.3V543.3H917.7zM958.7 606.7H961.3V629.3H958.7zM963.7 551.7H966.3V603.3H963.7zM975.7 559.7H978.3V574.3H975.7zM981.7 505.7H984.3V556.3H981.7zM986.7 484.7H989.3V502.3H986.7zM992.7 429.7H995.3V481.3H992.7zM1010.7 363.7H1013.3V433.3H1010.7zM1015.7 331.7H1018.3V360.3H1015.7zM1039.7 386.7H1042.3V392.3H1039.7zM1056.7 413.7H1059.3V465.3H1056.7zM1067.7 316.7H1070.3V434.3H1067.7zM1091.7 361.7H1094.3V402.3H1091.7zM1137.7 390.7H1140.3V412.3H1137.7zM1160.7 419.7H1163.3V423.3H1160.7zM1177.7 411.7H1180.3V414.3H1177.7zM1183.7 388.7H1186.3V408.3H1183.7zM1189.7 339.7H1192.3V385.3H1189.7zM1218.7 362.7H1221.3V376.3H1218.7zM1270.7 478.7H1273.3V511.3H1270.7zM1282.7 453.7H1285.3V478.3H1282.7zM1287.7 438.7H1290.3V450.3H1287.7zM1299.7 410.7H1302.3V450.3H1299.7zM1305.7 382.7H1308.3V407.3H1305.7zM1328.7 343.7H1331.3V375.3H1328.7zM1339.7 374.7H1342.3V388.3H1339.7zM1363.7 451.7H1366.3V540.3H1363.7zM1368.7 432.7H1371.3V448.3H1368.7zM1397.7 510.7H1400.3V520.3H1397.7zM1403.7 489.7H1406.3V507.3H1403.7zM1426.7 517.7H1429.3V527.3H1426.7zM1432.7 500.7H1435.3V514.3H1432.7zM1438.7 495.7H1441.3V497.3H1438.7zM1444.7 450.7H1447.3V492.3H1444.7zM1472.7 521.7H1475.3V527.3H1472.7zM1478.7 515.7H1481.3V518.3H1478.7zM1484.7 507.7H1487.3V512.3H1484.7zM1501.7 625.7H1504.3V658.3H1501.7zM1513.7 622.7H1516.3V651.3H1513.7zM1525.7 585.7H1528.3V627.3H1525.7zM1559.7 695.7H1562.3V707.3H1559.7zM1577.7 708.7H1580.3V731.3H1577.7zM1606.7 805.7H1609.3V811.3H1606.7zM1611.7 758.7H1614.3V802.3H1611.7zM1623.7 736.7H1626.3V752.3H1623.7zM1658.7 744.7H1661.3V802.3H1658.7zM1663.7 688.7H1666.3V741.3H1663.7zM1687.7 725.7H1690.3V729.3H1687.7zM1692.7 707.7H1695.3V722.3H1692.7zM1698.7 652.7H1701.3V704.3H1698.7zM1721.7 710.7H1724.3V714.3H1721.7zM1756.7 749.7H1759.3V791.3H1756.7zM1768.7 742.7H1771.3V746.3H1768.7zM1797.7 766.7H1800.3V769.3H1797.7zM1802.7 759.7H1805.3V763.3H1802.7zM1820.7 752.7H1823.3V759.3H1820.7zM1831.7 742.7H1834.3V750.3H1831.7zM1837.7 707.7H1840.3V739.3H1837.7zM1854.7 678.7H1857.3V699.3H1854.7zM1860.7 658.7H1863.3V675.3H1860.7zM1889.7 709.7H1892.3V716.3H1889.7zM1901.7 651.7H1904.3V713.3H1901.7zM1906.7 642.7H1909.3V648.3H1906.7zM1947.7 750.7H1950.3V759.3H1947.7zM1976.7 765.7H1979.3V797.3H1976.7zM1982.7 736.7H1985.3V762.3H1982.7zM2016.7 963.7H2019.3V990.3H2016.7zM2040.7 1078.7H2043.3V1186.3H2040.7zM2045.7 1069.7H2048.3V1075.3H2045.7zM2057.7 1061.7H2060.3V1064.3H2057.7zM2080.7 1085.7H2083.3V1128.3H2080.7zM2086.7 1069.7H2089.3V1082.3H2086.7zM2097.7 1107.7H2100.3V1118.3H2097.7zM2121.7 1121.7H2124.3V1126.3H2121.7zM2149.7 1080.7H2152.3V1169.3H2149.7zM2167.7 1122.7H2170.3V1134.3H2167.7zM2178.7 1094.7H2181.3V1130.3H2178.7zM2190.7 1050.7H2193.3V1110.3H2190.7zM2219.7 1109.7H2222.3V1131.3H2219.7zM2225.7 1090.7H2228.3V1106.3H2225.7zM2230.7 1083.7H2233.3V1087.3H2230.7zM2236.7 1074.7H2239.3V1080.3H2236.7zM2242.7 1065.7H2245.3V1071.3H2242.7zM2254.7 1030.7H2257.3V1060.3H2254.7zM2259.7 961.7H2262.3V1027.3H2259.7z" fill="#73ac8a"/>
</g>
<path d="M20 1038H2511" stroke="#58a97e" stroke-width="2" stroke-dasharray="2 4" fill="none"/>
<rect x="20" y="227" width="2730" height="2" fill="#2a2e39"/>
<rect x="20" y="1498" width="2730" height="2" fill="#50505a"/>
<rect x="2618" y="54" width="2" height="1500" fill="#50505a"/>
<text x="20.6" y="40.5" font-size="26" fill="#dcdcdc" stroke="#dcdcdc" stroke-width="0.45" textLength="146" lengthAdjust="spacingAndGlyphs">bitcoinwallah</text>
<text x="174" y="40.5" font-size="26" fill="#dcdcdc" stroke="#dcdcdc" stroke-width="0.45" textLength="84" lengthAdjust="spacingAndGlyphs">created</text>
<text x="267.9" y="40.5" font-size="26" fill="#dcdcdc" stroke="#dcdcdc" stroke-width="0.45" textLength="45" lengthAdjust="spacingAndGlyphs">with</text>
<text x="322" y="40.5" font-size="26" fill="#dcdcdc" stroke="#dcdcdc" stroke-width="0.45" textLength="197" lengthAdjust="spacingAndGlyphs">TradingView.com,</text>
<text x="528.5" y="40.5" font-size="26" fill="#dcdcdc" stroke="#dcdcdc" stroke-width="0.45" textLength="44" lengthAdjust="spacingAndGlyphs">Mar</text>
<text x="578.4" y="40.5" font-size="26" fill="#dcdcdc" stroke="#dcdcdc" stroke-width="0.45" textLength="30.5" lengthAdjust="spacingAndGlyphs">21,</text>
<text x="617" y="40.5" font-size="26" fill="#dcdcdc" stroke="#dcdcdc" stroke-width="0.45" textLength="57" lengthAdjust="spacingAndGlyphs">2026</text>
<text x="682" y="40.5" font-size="26" fill="#dcdcdc" stroke="#dcdcdc" stroke-width="0.45" textLength="58.5" lengthAdjust="spacingAndGlyphs">15:31</text>
<text x="748.8" y="40.5" font-size="26" fill="#dcdcdc" stroke="#dcdcdc" stroke-width="0.45" textLength="48.2" lengthAdjust="spacingAndGlyphs">UTC</text>
<text x="2636.5" y="327.5" font-size="22" fill="#4c4c4c" stroke="#4c4c4c" stroke-width="0.55" textLength="80" lengthAdjust="spacing">4,800.0</text>
<text x="2636.5" y="405.3" font-size="22" fill="#4c4c4c" stroke="#4c4c4c" stroke-width="0.55" textLength="80" lengthAdjust="spacing">4,400.0</text>
<text x="2636.5" y="490.5" font-size="22" fill="#4c4c4c" stroke="#4c4c4c" stroke-width="0.55" textLength="80" lengthAdjust="spacing">4,000.0</text>
<text x="2636.5" y="584.7" font-size="22" fill="#4c4c4c" stroke="#4c4c4c" stroke-width="0.55" textLength="80" lengthAdjust="spacing">3,600.0</text>
<text x="2636.5" y="690.0" font-size="22" fill="#4c4c4c" stroke="#4c4c4c" stroke-width="0.55" textLength="80" lengthAdjust="spacing">3,200.0</text>
<text x="2636.5" y="747.7" font-size="22" fill="#4c4c4c" stroke="#4c4c4c" stroke-width="0.55" textLength="80" lengthAdjust="spacing">3,000.0</text>
<text x="2636.5" y="809.4" font-size="22" fill="#4c4c4c" stroke="#4c4c4c" stroke-width="0.55" textLength="80" lengthAdjust="spacing">2,800.0</text>
<text x="2636.5" y="875.6" font-size="22" fill="#4c4c4c" stroke="#4c4c4c" stroke-width="0.55" textLength="80" lengthAdjust="spacing">2,600.0</text>
<text x="2636.5" y="947.2" font-size="22" fill="#4c4c4c" stroke="#4c4c4c" stroke-width="0.55" textLength="80" lengthAdjust="spacing">2,400.0</text>
<text x="2636.5" y="1004.9" font-size="22" fill="#4c4c4c" stroke="#4c4c4c" stroke-width="0.55" textLength="80" lengthAdjust="spacing">2,250.0</text>
<text x="2636.5" y="1137.4" font-size="22" fill="#4c4c4c" stroke="#4c4c4c" stroke-width="0.55" textLength="80" lengthAdjust="spacing">1,940.0</text>
<text x="2636.5" y="1194.5" font-size="22" fill="#4c4c4c" stroke="#4c4c4c" stroke-width="0.55" textLength="80" lengthAdjust="spacing">1,820.0</text>
<text x="2636.5" y="1258.1" font-size="22" fill="#4c4c4c" stroke="#4c4c4c" stroke-width="0.55" textLength="80" lengthAdjust="spacing">1,695.0</text>
<text x="2636.5" y="1323.7" font-size="22" fill="#4c4c4c" stroke="#4c4c4c" stroke-width="0.55" textLength="80" lengthAdjust="spacing">1,575.0</text>
<text x="2636.5" y="1382.4" font-size="22" fill="#4c4c4c" stroke="#4c4c4c" stroke-width="0.55" textLength="80" lengthAdjust="spacing">1,475.0</text>
<text x="2636.5" y="1438.7" font-size="22" fill="#4c4c4c" stroke="#4c4c4c" stroke-width="0.55" textLength="80" lengthAdjust="spacing">1,385.0</text>
<g clip-path="url(#cm2)">
<text x="2636.5" y="1495.3" font-size="22" fill="#4c4c4c" stroke="#4c4c4c" stroke-width="0.55" textLength="80" lengthAdjust="spacing">1,300.0</text>
</g>
<text x="2636.5" y="97.5" font-size="22" fill="#4c4c4c" stroke="#4c4c4c" stroke-width="0.55" textLength="60" lengthAdjust="spacing">75.00</text>
<text x="2636.5" y="209.5" font-size="22" fill="#4c4c4c" stroke="#4c4c4c" stroke-width="0.55" textLength="60" lengthAdjust="spacing">25.00</text>
<rect x="2626" y="237.5" width="116" height="51" rx="8" fill="#fff"/>
<text x="2645" y="270" font-size="24" fill="#131313" stroke="#131313" stroke-width="0.55" textLength="49" lengthAdjust="spacing">USD</text>
<path d="M2515 1022H2618V1054H2515a4 4 0 0 1-4-4V1026a4 4 0 0 1 4-4z" fill="#6ba583"/>
<path d="M2620 1022H2739a4 4 0 0 1 4 4V1076a4 4 0 0 1-4 4H2620z" fill="#6ba583"/>
<text x="2521" y="1045.5" font-size="22" fill="#fff" stroke="#fff" stroke-width="0.55" textLength="88" lengthAdjust="spacing">ETHUSD</text>
<text x="2636.5" y="1043.6" font-size="22" fill="#fff" stroke="#fff" stroke-width="0.55" textLength="80" lengthAdjust="spacing">2,152.9</text>
<text x="2636.5" y="1070" font-size="22" fill="#e1eee6" stroke="#e1eee6" stroke-width="0.55" textLength="93" lengthAdjust="spacing">08:28:15</text>
<text x="63" y="1534.5" font-size="23" fill="#4c4c4c" stroke="#4c4c4c" stroke-width="0.55" text-anchor="middle">Mar</text>
<text x="242" y="1534.5" font-size="23" fill="#4c4c4c" stroke="#4c4c4c" stroke-width="0.55" text-anchor="middle">Apr</text>
<text x="416" y="1534.5" font-size="23" fill="#4c4c4c" stroke="#4c4c4c" stroke-width="0.55" text-anchor="middle">May</text>
<text x="595" y="1534.5" font-size="23" fill="#4c4c4c" stroke="#4c4c4c" stroke-width="0.55" text-anchor="middle">Jun</text>
<text x="769" y="1534.5" font-size="23" fill="#4c4c4c" stroke="#4c4c4c" stroke-width="0.55" text-anchor="middle">Jul</text>
<text x="948" y="1534.5" font-size="23" fill="#4c4c4c" stroke="#4c4c4c" stroke-width="0.55" text-anchor="middle">Aug</text>
<text x="1127" y="1534.5" font-size="23" fill="#4c4c4c" stroke="#4c4c4c" stroke-width="0.55" text-anchor="middle">Sep</text>
<text x="1301" y="1534.5" font-size="23" fill="#4c4c4c" stroke="#4c4c4c" stroke-width="0.55" text-anchor="middle">Oct</text>
<text x="1480" y="1534.5" font-size="23" fill="#4c4c4c" stroke="#4c4c4c" stroke-width="0.55" text-anchor="middle">Nov</text>
<text x="1654" y="1534.5" font-size="23" fill="#4c4c4c" stroke="#4c4c4c" stroke-width="0.55" text-anchor="middle">Dec</text>
<text x="1804" y="1534.5" font-size="23" fill="#4c4c4c" stroke="#4c4c4c" stroke-width="0.9" textLength="58" lengthAdjust="spacing" font-weight="bold">2026</text>
<text x="2013" y="1534.5" font-size="23" fill="#4c4c4c" stroke="#4c4c4c" stroke-width="0.55" text-anchor="middle">Feb</text>
<text x="2175" y="1534.5" font-size="23" fill="#4c4c4c" stroke="#4c4c4c" stroke-width="0.55" text-anchor="middle">Mar</text>
<text x="2354" y="1534.5" font-size="23" fill="#4c4c4c" stroke="#4c4c4c" stroke-width="0.55" text-anchor="middle">Apr</text>
<text x="2528" y="1534.5" font-size="23" fill="#4c4c4c" stroke="#4c4c4c" stroke-width="0.55" text-anchor="middle">May</text>
<text x="37" y="93.8" font-size="24" fill="#4c4c4c" stroke="#4c4c4c" stroke-width="0.55" textLength="160" lengthAdjust="spacing">RSI (14, close)</text>
<text x="212" y="93.8" font-size="24" fill="#7e57c2" stroke="#7e57c2" stroke-width="0.55" textLength="64" lengthAdjust="spacing">52.26</text>
<text x="291" y="93.8" font-size="24" fill="#fdd835" stroke="#fdd835" stroke-width="0.55" textLength="64" lengthAdjust="spacing">53.06</text>
<text x="37" y="269" font-size="24" fill="#4c4c4c" stroke="#4c4c4c" stroke-width="0.55" textLength="416" lengthAdjust="spacing">Ethereum / U.S. Dollar · 1D · Bitstamp</text>
<text x="468.7" y="269" font-size="24" fill="#4c4c4c" stroke="#4c4c4c" stroke-width="0.55" textLength="99" lengthAdjust="spacing">O<tspan fill="#1b5e3a" stroke="#1b5e3a">2,146.8</tspan></text>
<text x="584" y="269" font-size="24" fill="#4c4c4c" stroke="#4c4c4c" stroke-width="0.55" textLength="95" lengthAdjust="spacing">H<tspan fill="#1b5e3a" stroke="#1b5e3a">2,167.4</tspan></text>
<text x="696" y="269" font-size="24" fill="#4c4c4c" stroke="#4c4c4c" stroke-width="0.55" textLength="94" lengthAdjust="spacing">L<tspan fill="#1b5e3a" stroke="#1b5e3a">2,144.4</tspan></text>
<text x="806" y="269" font-size="24" fill="#4c4c4c" stroke="#4c4c4c" stroke-width="0.55" textLength="97" lengthAdjust="spacing">C<tspan fill="#1b5e3a" stroke="#1b5e3a">2,152.9</tspan></text>
<text x="918" y="269" font-size="24" fill="#1b5e3a" stroke="#1b5e3a" stroke-width="0.55" textLength="159" lengthAdjust="spacing">+6.6 (+0.31%)</text>
<text x="37" y="303" font-size="24" fill="#4c4c4c" stroke="#4c4c4c" stroke-width="0.55" textLength="176.5" lengthAdjust="spacing">EMA (50, close)</text>
<text x="229.8" y="303" font-size="24" fill="#f23645" stroke="#f23645" stroke-width="0.55" textLength="84" lengthAdjust="spacing">2,209.3</text>
<text x="37" y="337" font-size="24" fill="#4c4c4c" stroke="#4c4c4c" stroke-width="0.55" textLength="191" lengthAdjust="spacing">EMA (200, close)</text>
<text x="244.5" y="337" font-size="24" fill="#2962ff" stroke="#2962ff" stroke-width="0.55" textLength="81" lengthAdjust="spacing">2,807.5</text>
<text x="37" y="371" font-size="24" fill="#4c4c4c" stroke="#4c4c4c" stroke-width="0.55" textLength="101" lengthAdjust="spacing">Vol · ETH</text>
<text x="153" y="371" font-size="24" fill="#26a69a" stroke="#26a69a" stroke-width="0.55" textLength="66" lengthAdjust="spacing">1.34 K</text>
<text x="37" y="405" font-size="24" fill="#4c4c4c" stroke="#4c4c4c" stroke-width="0.55" textLength="176" lengthAdjust="spacing">EMA (20, close)</text>
<text x="230" y="405" font-size="24" fill="#056656" stroke="#056656" stroke-width="0.55" textLength="76" lengthAdjust="spacing">2,121.3</text>
<text x="37" y="439" font-size="24" fill="#4c4c4c" stroke="#4c4c4c" stroke-width="0.55" textLength="187.5" lengthAdjust="spacing">EMA (100, close)</text>
<text x="241.4" y="439" font-size="24" fill="#5e35b1" stroke="#5e35b1" stroke-width="0.55" textLength="85" lengthAdjust="spacing">2,486.4</text>
<path d="M24 1598H48.3V1628H36V1609.7H24z" fill="#dcdcdc"/><circle cx="57.8" cy="1604" r="6.1" fill="#dcdcdc"/><path d="M68.4 1598H83.8L72.8 1628H58.2z" fill="#dcdcdc"/>
<text x="97" y="1628" font-size="42" font-weight="bold" fill="#dcdcdc" textLength="243" lengthAdjust="spacingAndGlyphs">TradingView</text>
</svg></body></html>
